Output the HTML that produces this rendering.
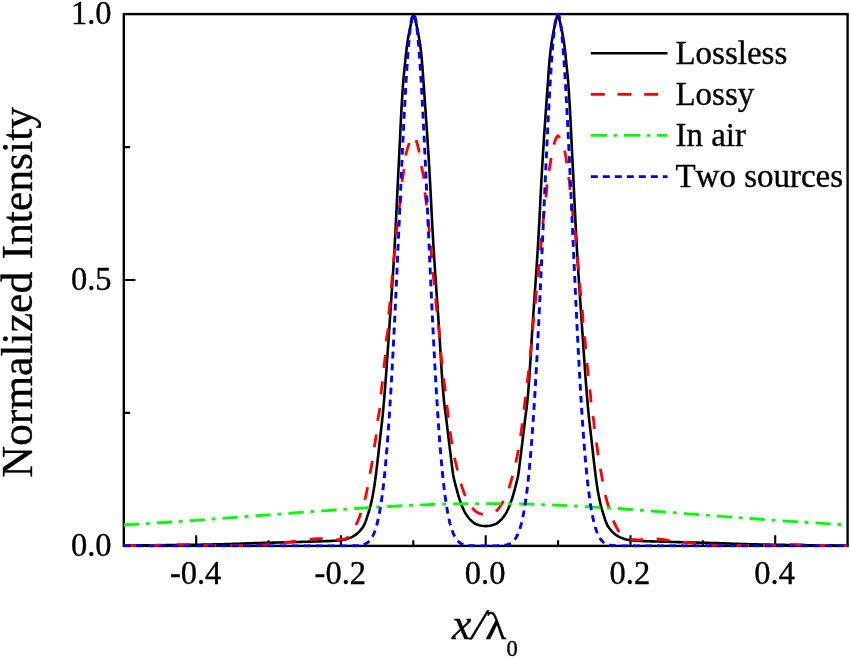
<!DOCTYPE html>
<html lang="en"><head><meta charset="utf-8"><title>Normalized Intensity</title>
<style>html,body{margin:0;padding:0;background:#fff}svg{display:block}</style></head>
<body>
<svg width="850" height="657" viewBox="0 0 850 657">
<rect width="850" height="657" fill="#fff"/>
<rect x="123.8" y="14.1" width="723.8" height="531.8" fill="none" stroke="#000" stroke-width="2.4"/>
<path d="M196.2,545.9 v-10.7 M268.6,545.9 v-5.7 M340.9,545.9 v-10.7 M413.3,545.9 v-5.7 M485.7,545.9 v-10.7 M558.1,545.9 v-5.7 M630.5,545.9 v-10.7 M702.8,545.9 v-5.7 M775.2,545.9 v-10.7 M123.8,412.9 h6.3 M123.8,280.0 h11.6 M123.8,147.1 h6.3" stroke="#000" stroke-width="2.1" fill="none"/>
<clipPath id="c"><rect x="122.6" y="12.95" width="726.2" height="534.5"/></clipPath>
<g clip-path="url(#c)" fill="none" stroke-linejoin="round">
<path d="M124.00,545.50 L125.91,545.49 L127.81,545.49 L129.72,545.48 L131.63,545.47 L133.54,545.46 L135.44,545.45 L137.35,545.43 L139.26,545.42 L141.16,545.41 L143.07,545.39 L144.98,545.38 L146.89,545.36 L148.79,545.35 L150.70,545.33 L152.61,545.31 L154.51,545.29 L156.42,545.27 L158.33,545.25 L160.24,545.23 L162.14,545.21 L164.05,545.19 L165.96,545.17 L167.86,545.15 L169.77,545.12 L171.68,545.10 L173.59,545.08 L175.49,545.06 L177.40,545.03 L179.31,545.01 L181.21,544.98 L183.12,544.96 L185.03,544.93 L186.93,544.91 L188.84,544.88 L190.75,544.85 L192.65,544.82 L194.56,544.79 L196.47,544.75 L198.38,544.72 L200.28,544.68 L202.19,544.65 L204.10,544.61 L206.00,544.57 L207.91,544.53 L209.82,544.49 L211.72,544.45 L213.63,544.41 L215.54,544.37 L217.44,544.32 L219.35,544.28 L221.26,544.23 L223.16,544.18 L225.07,544.13 L226.98,544.08 L228.88,544.03 L230.79,543.98 L232.70,543.92 L234.60,543.85 L236.51,543.77 L238.41,543.70 L240.32,543.62 L242.22,543.53 L244.13,543.45 L246.03,543.38 L247.94,543.30 L249.85,543.24 L251.75,543.18 L253.66,543.12 L255.57,543.07 L257.47,543.02 L259.38,542.97 L261.29,542.93 L263.19,542.88 L265.10,542.84 L267.01,542.79 L268.91,542.75 L270.82,542.70 L272.73,542.66 L274.63,542.62 L276.54,542.57 L278.45,542.52 L280.35,542.47 L282.26,542.42 L284.16,542.37 L286.07,542.31 L287.98,542.26 L289.88,542.21 L291.79,542.15 L293.70,542.10 L295.60,542.04 L297.51,541.99 L299.42,541.93 L301.32,541.88 L303.23,541.82 L305.14,541.77 L307.04,541.71 L308.95,541.66 L310.85,541.61 L312.76,541.56 L314.67,541.51 L316.57,541.45 L318.48,541.40 L320.39,541.34 L322.29,541.28 L324.20,541.21 L326.11,541.15 L328.01,541.08 L329.92,541.00 L331.83,540.92 L333.73,540.82 L335.63,540.70 L337.53,540.55 L339.43,540.35 L341.32,540.11 L343.21,539.81 L345.08,539.42 L346.92,538.94 L348.72,538.32 L350.50,537.61 L352.24,536.82 L353.90,535.91 L355.51,534.86 L357.02,533.70 L358.44,532.42 L359.77,531.04 L361.00,529.60 L362.19,528.08 L363.27,526.49 L364.18,524.85 L364.95,523.14 L365.66,521.37 L366.30,519.57 L366.91,517.74 L367.49,515.90 L368.05,514.07 L368.62,512.25 L369.17,510.42 L369.70,508.59 L370.21,506.75 L370.69,504.90 L371.14,503.05 L371.57,501.19 L371.97,499.33 L372.36,497.46 L372.73,495.59 L373.08,493.71 L373.42,491.83 L373.74,489.95 L374.04,488.07 L374.33,486.19 L374.61,484.30 L374.88,482.41 L375.13,480.52 L375.39,478.63 L375.63,476.74 L375.88,474.85 L376.12,472.96 L376.35,471.06 L376.59,469.17 L376.81,467.28 L377.04,465.38 L377.26,463.49 L377.48,461.59 L377.70,459.70 L377.91,457.80 L378.13,455.91 L378.34,454.01 L378.55,452.12 L378.76,450.22 L378.97,448.33 L379.18,446.43 L379.39,444.53 L379.60,442.64 L379.82,440.74 L380.03,438.85 L380.25,436.95 L380.47,435.06 L380.69,433.16 L380.91,431.27 L381.13,429.37 L381.35,427.48 L381.56,425.58 L381.78,423.69 L381.99,421.79 L382.20,419.90 L382.40,418.00 L382.60,416.10 L382.80,414.21 L382.98,412.31 L383.16,410.41 L383.34,408.51 L383.51,406.62 L383.67,404.72 L383.84,402.82 L384.00,400.92 L384.16,399.02 L384.32,397.12 L384.48,395.22 L384.64,393.32 L384.79,391.42 L384.94,389.52 L385.09,387.61 L385.24,385.71 L385.39,383.81 L385.53,381.91 L385.67,380.01 L385.82,378.11 L385.96,376.20 L386.10,374.30 L386.23,372.40 L386.37,370.50 L386.51,368.59 L386.64,366.69 L386.78,364.79 L386.91,362.89 L387.04,360.98 L387.18,359.08 L387.31,357.18 L387.44,355.27 L387.57,353.37 L387.70,351.47 L387.83,349.56 L387.96,347.66 L388.09,345.76 L388.21,343.85 L388.34,341.95 L388.47,340.05 L388.60,338.15 L388.73,336.24 L388.86,334.34 L388.99,332.44 L389.12,330.53 L389.25,328.63 L389.38,326.73 L389.51,324.83 L389.64,322.92 L389.78,321.02 L389.91,319.12 L390.04,317.21 L390.17,315.31 L390.30,313.41 L390.43,311.51 L390.56,309.60 L390.69,307.70 L390.82,305.80 L390.95,303.90 L391.08,301.99 L391.21,300.09 L391.34,298.19 L391.47,296.28 L391.60,294.38 L391.73,292.48 L391.86,290.58 L391.98,288.67 L392.11,286.77 L392.24,284.87 L392.36,282.96 L392.49,281.06 L392.61,279.16 L392.73,277.25 L392.86,275.35 L392.98,273.45 L393.10,271.54 L393.22,269.64 L393.34,267.74 L393.46,265.83 L393.58,263.93 L393.69,262.03 L393.81,260.12 L393.93,258.22 L394.04,256.32 L394.15,254.41 L394.27,252.51 L394.38,250.60 L394.49,248.70 L394.60,246.80 L394.71,244.89 L394.81,242.99 L394.92,241.08 L395.02,239.18 L395.13,237.28 L395.23,235.37 L395.33,233.47 L395.43,231.56 L395.53,229.66 L395.63,227.75 L395.72,225.85 L395.82,223.94 L395.92,222.04 L396.01,220.13 L396.11,218.23 L396.20,216.32 L396.29,214.42 L396.38,212.52 L396.48,210.61 L396.57,208.71 L396.66,206.80 L396.75,204.90 L396.84,202.99 L396.93,201.08 L397.03,199.18 L397.12,197.27 L397.21,195.37 L397.30,193.46 L397.39,191.56 L397.48,189.65 L397.57,187.75 L397.66,185.84 L397.76,183.94 L397.85,182.03 L397.94,180.13 L398.03,178.22 L398.13,176.32 L398.22,174.41 L398.32,172.51 L398.41,170.61 L398.51,168.70 L398.61,166.80 L398.71,164.89 L398.80,162.99 L398.90,161.08 L399.00,159.18 L399.09,157.27 L399.18,155.37 L399.28,153.46 L399.37,151.56 L399.46,149.65 L399.55,147.74 L399.64,145.84 L399.73,143.93 L399.83,142.03 L399.92,140.12 L400.01,138.22 L400.10,136.31 L400.19,134.41 L400.28,132.50 L400.37,130.60 L400.46,128.69 L400.56,126.78 L400.65,124.88 L400.75,122.97 L400.84,121.07 L400.94,119.16 L401.04,117.26 L401.14,115.35 L401.24,113.45 L401.34,111.55 L401.45,109.64 L401.55,107.74 L401.66,105.83 L401.77,103.93 L401.88,102.03 L402.00,100.12 L402.12,98.22 L402.24,96.32 L402.36,94.41 L402.48,92.51 L402.61,90.61 L402.74,88.71 L402.87,86.81 L403.01,84.91 L403.15,83.00 L403.30,81.10 L403.46,79.20 L403.63,77.30 L403.81,75.41 L403.99,73.51 L404.18,71.61 L404.37,69.71 L404.57,67.81 L404.76,65.92 L404.96,64.02 L405.16,62.12 L405.36,60.22 L405.55,58.33 L405.75,56.43 L405.95,54.53 L406.15,52.64 L406.37,50.74 L406.59,48.85 L406.83,46.96 L407.09,45.07 L407.36,43.18 L407.65,41.29 L407.94,39.41 L408.25,37.52 L408.57,35.65 L408.91,33.77 L409.26,31.89 L409.63,30.02 L410.02,28.15 L410.42,26.29 L410.83,24.43 L411.27,22.57 L411.73,20.72 L412.19,18.87 L412.64,17.02 L413.08,15.16 L413.50,13.30 L413.70,13.30 L414.09,15.03 L414.49,16.75 L414.91,18.47 L415.34,20.19 L415.77,21.91 L416.19,23.63 L416.58,25.35 L416.95,27.08 L417.32,28.81 L417.67,30.55 L418.01,32.29 L418.33,34.02 L418.65,35.77 L418.95,37.51 L419.25,39.25 L419.54,41.00 L419.81,42.75 L420.08,44.50 L420.32,46.25 L420.55,48.01 L420.77,49.76 L420.97,51.52 L421.16,53.28 L421.35,55.04 L421.52,56.81 L421.69,58.57 L421.85,60.33 L422.00,62.09 L422.15,63.86 L422.29,65.62 L422.43,67.38 L422.57,69.15 L422.70,70.91 L422.83,72.68 L422.95,74.45 L423.08,76.21 L423.20,77.98 L423.33,79.74 L423.45,81.51 L423.58,83.27 L423.70,85.04 L423.83,86.81 L423.96,88.57 L424.08,90.34 L424.21,92.10 L424.34,93.87 L424.46,95.63 L424.59,97.40 L424.71,99.16 L424.84,100.93 L424.97,102.69 L425.09,104.46 L425.22,106.23 L425.34,107.99 L425.46,109.76 L425.59,111.52 L425.71,113.29 L425.83,115.05 L425.96,116.82 L426.08,118.58 L426.20,120.35 L426.32,122.12 L426.44,123.88 L426.57,125.65 L426.69,127.41 L426.80,129.18 L426.92,130.95 L427.04,132.71 L427.16,134.48 L427.28,136.24 L427.40,138.01 L427.51,139.78 L427.63,141.54 L427.74,143.31 L427.86,145.07 L427.97,146.84 L428.08,148.61 L428.20,150.37 L428.31,152.14 L428.42,153.91 L428.53,155.67 L428.64,157.44 L428.75,159.21 L428.86,160.97 L428.96,162.74 L429.07,164.51 L429.18,166.27 L429.28,168.04 L429.38,169.81 L429.48,171.57 L429.58,173.34 L429.68,175.11 L429.78,176.87 L429.88,178.64 L429.97,180.41 L430.07,182.18 L430.16,183.94 L430.26,185.71 L430.35,187.48 L430.44,189.25 L430.54,191.01 L430.63,192.78 L430.72,194.55 L430.81,196.32 L430.90,198.08 L430.99,199.85 L431.08,201.62 L431.17,203.39 L431.26,205.16 L431.35,206.92 L431.44,208.69 L431.53,210.46 L431.62,212.23 L431.71,213.99 L431.80,215.76 L431.89,217.53 L431.98,219.30 L432.07,221.06 L432.16,222.83 L432.26,224.60 L432.35,226.37 L432.45,228.13 L432.54,229.90 L432.64,231.67 L432.74,233.44 L432.83,235.20 L432.93,236.97 L433.03,238.74 L433.14,240.50 L433.24,242.27 L433.34,244.04 L433.45,245.80 L433.56,247.57 L433.66,249.34 L433.77,251.10 L433.88,252.87 L433.99,254.64 L434.11,256.40 L434.22,258.17 L434.33,259.94 L434.45,261.70 L434.56,263.47 L434.68,265.23 L434.80,267.00 L434.91,268.77 L435.03,270.53 L435.15,272.30 L435.27,274.06 L435.39,275.83 L435.51,277.60 L435.63,279.36 L435.75,281.13 L435.88,282.89 L436.00,284.66 L436.12,286.42 L436.24,288.19 L436.37,289.96 L436.49,291.72 L436.61,293.49 L436.74,295.25 L436.86,297.02 L436.98,298.78 L437.11,300.55 L437.23,302.32 L437.35,304.08 L437.48,305.85 L437.60,307.61 L437.72,309.38 L437.85,311.14 L437.97,312.91 L438.09,314.68 L438.21,316.44 L438.34,318.21 L438.46,319.97 L438.58,321.74 L438.70,323.50 L438.82,325.27 L438.94,327.04 L439.05,328.80 L439.17,330.57 L439.28,332.34 L439.39,334.10 L439.50,335.87 L439.61,337.64 L439.72,339.40 L439.83,341.17 L439.94,342.94 L440.04,344.71 L440.15,346.47 L440.25,348.24 L440.36,350.01 L440.46,351.78 L440.57,353.55 L440.68,355.31 L440.78,357.08 L440.89,358.85 L441.00,360.62 L441.10,362.38 L441.21,364.15 L441.33,365.92 L441.44,367.68 L441.55,369.45 L441.67,371.22 L441.78,372.98 L441.90,374.75 L442.02,376.52 L442.15,378.28 L442.27,380.05 L442.40,381.81 L442.53,383.58 L442.66,385.34 L442.80,387.10 L442.94,388.87 L443.08,390.63 L443.23,392.39 L443.38,394.15 L443.53,395.92 L443.69,397.68 L443.85,399.44 L444.02,401.20 L444.20,402.96 L444.40,404.71 L444.62,406.47 L444.84,408.23 L445.07,409.98 L445.30,411.74 L445.54,413.49 L445.78,415.25 L446.01,417.00 L446.23,418.76 L446.45,420.52 L446.66,422.27 L446.87,424.03 L447.08,425.79 L447.29,427.55 L447.50,429.30 L447.71,431.06 L447.92,432.82 L448.13,434.58 L448.34,436.33 L448.55,438.09 L448.76,439.85 L448.97,441.61 L449.18,443.36 L449.40,445.12 L449.61,446.88 L449.82,448.63 L450.04,450.39 L450.26,452.15 L450.47,453.90 L450.69,455.66 L450.91,457.42 L451.13,459.17 L451.35,460.93 L451.56,462.69 L451.77,464.45 L451.98,466.21 L452.19,467.97 L452.42,469.73 L452.65,471.48 L452.91,473.23 L453.19,474.97 L453.52,476.70 L453.88,478.43 L454.28,480.16 L454.71,481.88 L455.15,483.60 L455.60,485.31 L456.05,487.02 L456.50,488.73 L456.96,490.45 L457.42,492.16 L457.90,493.87 L458.39,495.57 L458.90,497.27 L459.44,498.96 L459.99,500.63 L460.58,502.29 L461.19,503.96 L461.83,505.62 L462.51,507.28 L463.22,508.91 L463.98,510.51 L464.79,512.07 L465.66,513.58 L466.61,515.08 L467.64,516.57 L468.75,517.99 L469.92,519.34 L471.15,520.56 L472.46,521.72 L473.90,522.85 L475.43,523.85 L477.01,524.58 L478.63,525.04 L480.30,525.45 L482.04,525.79 L483.84,526.02 L485.70,526.10 L487.56,526.02 L489.36,525.79 L491.10,525.45 L492.77,525.04 L494.39,524.58 L495.97,523.85 L497.50,522.85 L498.94,521.72 L500.25,520.56 L501.48,519.34 L502.65,517.99 L503.76,516.57 L504.79,515.08 L505.74,513.58 L506.61,512.07 L507.42,510.51 L508.18,508.91 L508.89,507.28 L509.57,505.62 L510.21,503.96 L510.82,502.29 L511.41,500.63 L511.96,498.96 L512.50,497.27 L513.01,495.57 L513.50,493.87 L513.98,492.16 L514.44,490.45 L514.90,488.73 L515.35,487.02 L515.80,485.31 L516.25,483.60 L516.69,481.88 L517.12,480.16 L517.52,478.43 L517.88,476.70 L518.21,474.97 L518.49,473.23 L518.75,471.48 L518.98,469.73 L519.21,467.97 L519.42,466.21 L519.63,464.45 L519.84,462.69 L520.05,460.93 L520.27,459.17 L520.49,457.42 L520.71,455.66 L520.93,453.90 L521.14,452.15 L521.36,450.39 L521.58,448.63 L521.79,446.88 L522.00,445.12 L522.22,443.36 L522.43,441.61 L522.64,439.85 L522.85,438.09 L523.06,436.33 L523.27,434.58 L523.48,432.82 L523.69,431.06 L523.90,429.30 L524.11,427.55 L524.32,425.79 L524.53,424.03 L524.74,422.27 L524.95,420.52 L525.17,418.76 L525.39,417.00 L525.62,415.25 L525.86,413.49 L526.10,411.74 L526.33,409.98 L526.56,408.23 L526.78,406.47 L527.00,404.71 L527.20,402.96 L527.38,401.20 L527.55,399.44 L527.71,397.68 L527.87,395.92 L528.02,394.15 L528.17,392.39 L528.32,390.63 L528.46,388.87 L528.60,387.10 L528.74,385.34 L528.87,383.58 L529.00,381.81 L529.13,380.05 L529.25,378.28 L529.38,376.52 L529.50,374.75 L529.62,372.98 L529.73,371.22 L529.85,369.45 L529.96,367.68 L530.07,365.92 L530.19,364.15 L530.30,362.38 L530.40,360.62 L530.51,358.85 L530.62,357.08 L530.72,355.31 L530.83,353.55 L530.94,351.78 L531.04,350.01 L531.15,348.24 L531.25,346.47 L531.36,344.71 L531.46,342.94 L531.57,341.17 L531.68,339.40 L531.79,337.64 L531.90,335.87 L532.01,334.10 L532.12,332.34 L532.23,330.57 L532.35,328.80 L532.46,327.04 L532.58,325.27 L532.70,323.50 L532.82,321.74 L532.94,319.97 L533.06,318.21 L533.19,316.44 L533.31,314.68 L533.43,312.91 L533.55,311.14 L533.68,309.38 L533.80,307.61 L533.92,305.85 L534.05,304.08 L534.17,302.32 L534.29,300.55 L534.42,298.78 L534.54,297.02 L534.66,295.25 L534.79,293.49 L534.91,291.72 L535.03,289.96 L535.16,288.19 L535.28,286.42 L535.40,284.66 L535.52,282.89 L535.65,281.13 L535.77,279.36 L535.89,277.60 L536.01,275.83 L536.13,274.06 L536.25,272.30 L536.37,270.53 L536.49,268.77 L536.60,267.00 L536.72,265.23 L536.84,263.47 L536.95,261.70 L537.07,259.94 L537.18,258.17 L537.29,256.40 L537.41,254.64 L537.52,252.87 L537.63,251.10 L537.74,249.34 L537.84,247.57 L537.95,245.80 L538.06,244.04 L538.16,242.27 L538.26,240.50 L538.37,238.74 L538.47,236.97 L538.57,235.20 L538.66,233.44 L538.76,231.67 L538.86,229.90 L538.95,228.13 L539.05,226.37 L539.14,224.60 L539.24,222.83 L539.33,221.06 L539.42,219.30 L539.51,217.53 L539.60,215.76 L539.69,213.99 L539.78,212.23 L539.87,210.46 L539.96,208.69 L540.05,206.92 L540.14,205.16 L540.23,203.39 L540.32,201.62 L540.41,199.85 L540.50,198.08 L540.59,196.32 L540.68,194.55 L540.77,192.78 L540.86,191.01 L540.96,189.25 L541.05,187.48 L541.14,185.71 L541.24,183.94 L541.33,182.18 L541.43,180.41 L541.52,178.64 L541.62,176.87 L541.72,175.11 L541.82,173.34 L541.92,171.57 L542.02,169.81 L542.12,168.04 L542.22,166.27 L542.33,164.51 L542.44,162.74 L542.54,160.97 L542.65,159.21 L542.76,157.44 L542.87,155.67 L542.98,153.91 L543.09,152.14 L543.20,150.37 L543.32,148.61 L543.43,146.84 L543.54,145.07 L543.66,143.31 L543.77,141.54 L543.89,139.78 L544.00,138.01 L544.12,136.24 L544.24,134.48 L544.36,132.71 L544.48,130.95 L544.60,129.18 L544.71,127.41 L544.83,125.65 L544.96,123.88 L545.08,122.12 L545.20,120.35 L545.32,118.58 L545.44,116.82 L545.57,115.05 L545.69,113.29 L545.81,111.52 L545.94,109.76 L546.06,107.99 L546.18,106.23 L546.31,104.46 L546.43,102.69 L546.56,100.93 L546.69,99.16 L546.81,97.40 L546.94,95.63 L547.06,93.87 L547.19,92.10 L547.32,90.34 L547.44,88.57 L547.57,86.81 L547.70,85.04 L547.82,83.27 L547.95,81.51 L548.07,79.74 L548.20,77.98 L548.32,76.21 L548.45,74.45 L548.57,72.68 L548.70,70.91 L548.83,69.15 L548.97,67.38 L549.11,65.62 L549.25,63.86 L549.40,62.09 L549.55,60.33 L549.71,58.57 L549.88,56.81 L550.05,55.04 L550.24,53.28 L550.43,51.52 L550.63,49.76 L550.85,48.01 L551.08,46.25 L551.32,44.50 L551.59,42.75 L551.86,41.00 L552.15,39.25 L552.45,37.51 L552.75,35.77 L553.07,34.02 L553.39,32.29 L553.73,30.55 L554.08,28.81 L554.45,27.08 L554.82,25.35 L555.21,23.63 L555.63,21.91 L556.06,20.19 L556.49,18.47 L556.91,16.75 L557.31,15.03 L557.70,13.30 L557.90,13.30 L558.32,15.16 L558.76,17.02 L559.21,18.87 L559.67,20.72 L560.13,22.57 L560.57,24.43 L560.98,26.29 L561.38,28.15 L561.77,30.02 L562.14,31.89 L562.49,33.77 L562.83,35.65 L563.15,37.52 L563.46,39.41 L563.75,41.29 L564.04,43.18 L564.31,45.07 L564.57,46.96 L564.81,48.85 L565.03,50.74 L565.25,52.64 L565.45,54.53 L565.65,56.43 L565.85,58.33 L566.04,60.22 L566.24,62.12 L566.44,64.02 L566.64,65.92 L566.83,67.81 L567.03,69.71 L567.22,71.61 L567.41,73.51 L567.59,75.41 L567.77,77.30 L567.94,79.20 L568.10,81.10 L568.25,83.00 L568.39,84.91 L568.53,86.81 L568.66,88.71 L568.79,90.61 L568.92,92.51 L569.04,94.41 L569.16,96.32 L569.28,98.22 L569.40,100.12 L569.52,102.03 L569.63,103.93 L569.74,105.83 L569.85,107.74 L569.95,109.64 L570.06,111.55 L570.16,113.45 L570.26,115.35 L570.36,117.26 L570.46,119.16 L570.56,121.07 L570.65,122.97 L570.75,124.88 L570.84,126.78 L570.94,128.69 L571.03,130.60 L571.12,132.50 L571.21,134.41 L571.30,136.31 L571.39,138.22 L571.48,140.12 L571.57,142.03 L571.67,143.93 L571.76,145.84 L571.85,147.74 L571.94,149.65 L572.03,151.56 L572.12,153.46 L572.22,155.37 L572.31,157.27 L572.40,159.18 L572.50,161.08 L572.60,162.99 L572.69,164.89 L572.79,166.80 L572.89,168.70 L572.99,170.61 L573.08,172.51 L573.18,174.41 L573.27,176.32 L573.37,178.22 L573.46,180.13 L573.55,182.03 L573.64,183.94 L573.74,185.84 L573.83,187.75 L573.92,189.65 L574.01,191.56 L574.10,193.46 L574.19,195.37 L574.28,197.27 L574.37,199.18 L574.47,201.08 L574.56,202.99 L574.65,204.90 L574.74,206.80 L574.83,208.71 L574.92,210.61 L575.02,212.52 L575.11,214.42 L575.20,216.32 L575.29,218.23 L575.39,220.13 L575.48,222.04 L575.58,223.94 L575.68,225.85 L575.77,227.75 L575.87,229.66 L575.97,231.56 L576.07,233.47 L576.17,235.37 L576.27,237.28 L576.38,239.18 L576.48,241.08 L576.59,242.99 L576.69,244.89 L576.80,246.80 L576.91,248.70 L577.02,250.60 L577.13,252.51 L577.25,254.41 L577.36,256.32 L577.47,258.22 L577.59,260.12 L577.71,262.03 L577.82,263.93 L577.94,265.83 L578.06,267.74 L578.18,269.64 L578.30,271.54 L578.42,273.45 L578.54,275.35 L578.67,277.25 L578.79,279.16 L578.91,281.06 L579.04,282.96 L579.16,284.87 L579.29,286.77 L579.42,288.67 L579.54,290.58 L579.67,292.48 L579.80,294.38 L579.93,296.28 L580.06,298.19 L580.19,300.09 L580.32,301.99 L580.45,303.90 L580.58,305.80 L580.71,307.70 L580.84,309.60 L580.97,311.51 L581.10,313.41 L581.23,315.31 L581.36,317.21 L581.49,319.12 L581.62,321.02 L581.76,322.92 L581.89,324.83 L582.02,326.73 L582.15,328.63 L582.28,330.53 L582.41,332.44 L582.54,334.34 L582.67,336.24 L582.80,338.15 L582.93,340.05 L583.06,341.95 L583.19,343.85 L583.31,345.76 L583.44,347.66 L583.57,349.56 L583.70,351.47 L583.83,353.37 L583.96,355.27 L584.09,357.18 L584.22,359.08 L584.36,360.98 L584.49,362.89 L584.62,364.79 L584.76,366.69 L584.89,368.59 L585.03,370.50 L585.17,372.40 L585.30,374.30 L585.44,376.20 L585.58,378.11 L585.73,380.01 L585.87,381.91 L586.01,383.81 L586.16,385.71 L586.31,387.61 L586.46,389.52 L586.61,391.42 L586.76,393.32 L586.92,395.22 L587.08,397.12 L587.24,399.02 L587.40,400.92 L587.56,402.82 L587.73,404.72 L587.89,406.62 L588.06,408.51 L588.24,410.41 L588.42,412.31 L588.60,414.21 L588.80,416.10 L589.00,418.00 L589.20,419.90 L589.41,421.79 L589.62,423.69 L589.84,425.58 L590.05,427.48 L590.27,429.37 L590.49,431.27 L590.71,433.16 L590.93,435.06 L591.15,436.95 L591.37,438.85 L591.58,440.74 L591.80,442.64 L592.01,444.53 L592.22,446.43 L592.43,448.33 L592.64,450.22 L592.85,452.12 L593.06,454.01 L593.27,455.91 L593.49,457.80 L593.70,459.70 L593.92,461.59 L594.14,463.49 L594.36,465.38 L594.59,467.28 L594.81,469.17 L595.05,471.06 L595.28,472.96 L595.52,474.85 L595.77,476.74 L596.01,478.63 L596.27,480.52 L596.52,482.41 L596.79,484.30 L597.07,486.19 L597.36,488.07 L597.66,489.95 L597.98,491.83 L598.32,493.71 L598.67,495.59 L599.04,497.46 L599.43,499.33 L599.83,501.19 L600.26,503.05 L600.71,504.90 L601.19,506.75 L601.70,508.59 L602.23,510.42 L602.78,512.25 L603.35,514.07 L603.91,515.90 L604.49,517.74 L605.10,519.57 L605.74,521.37 L606.45,523.14 L607.22,524.85 L608.13,526.49 L609.21,528.08 L610.40,529.60 L611.63,531.04 L612.96,532.42 L614.38,533.70 L615.89,534.86 L617.50,535.91 L619.16,536.82 L620.90,537.61 L622.68,538.32 L624.48,538.94 L626.32,539.42 L628.19,539.81 L630.08,540.11 L631.97,540.35 L633.87,540.55 L635.77,540.70 L637.67,540.82 L639.57,540.92 L641.48,541.00 L643.39,541.08 L645.29,541.15 L647.20,541.21 L649.11,541.28 L651.01,541.34 L652.92,541.40 L654.83,541.45 L656.73,541.51 L658.64,541.56 L660.55,541.61 L662.45,541.66 L664.36,541.71 L666.26,541.77 L668.17,541.82 L670.08,541.88 L671.98,541.93 L673.89,541.99 L675.80,542.04 L677.70,542.10 L679.61,542.15 L681.52,542.21 L683.42,542.26 L685.33,542.31 L687.24,542.37 L689.14,542.42 L691.05,542.47 L692.95,542.52 L694.86,542.57 L696.77,542.62 L698.67,542.66 L700.58,542.70 L702.49,542.75 L704.39,542.79 L706.30,542.84 L708.21,542.88 L710.11,542.93 L712.02,542.97 L713.93,543.02 L715.83,543.07 L717.74,543.12 L719.65,543.18 L721.55,543.24 L723.46,543.30 L725.37,543.38 L727.27,543.45 L729.18,543.53 L731.08,543.62 L732.99,543.70 L734.89,543.77 L736.80,543.85 L738.70,543.92 L740.61,543.98 L742.52,544.03 L744.42,544.08 L746.33,544.13 L748.24,544.18 L750.14,544.23 L752.05,544.28 L753.96,544.32 L755.86,544.37 L757.77,544.41 L759.68,544.45 L761.58,544.49 L763.49,544.53 L765.40,544.57 L767.30,544.61 L769.21,544.65 L771.12,544.68 L773.02,544.72 L774.93,544.75 L776.84,544.79 L778.75,544.82 L780.65,544.85 L782.56,544.88 L784.47,544.91 L786.37,544.93 L788.28,544.96 L790.19,544.98 L792.09,545.01 L794.00,545.03 L795.91,545.06 L797.81,545.08 L799.72,545.10 L801.63,545.12 L803.54,545.15 L805.44,545.17 L807.35,545.19 L809.26,545.21 L811.16,545.23 L813.07,545.25 L814.98,545.27 L816.89,545.29 L818.79,545.31 L820.70,545.33 L822.61,545.35 L824.51,545.36 L826.42,545.38 L828.33,545.39 L830.24,545.41 L832.14,545.42 L834.05,545.43 L835.96,545.45 L837.86,545.46 L839.77,545.47 L841.68,545.48 L843.59,545.49 L845.49,545.49 L847.40,545.50" stroke="#000" stroke-width="2.6" stroke-linejoin="miter" stroke-miterlimit="10"/>
<path d="M124.00,545.60 L125.41,545.60 L126.83,545.59 L128.24,545.59 L129.66,545.58 L131.07,545.57 L132.48,545.56 L133.90,545.55 L135.31,545.54 L136.72,545.53 L138.14,545.51 L139.55,545.50 L140.97,545.48 L142.38,545.46 L143.79,545.45 L145.21,545.43 L146.62,545.41 L148.03,545.39 L149.45,545.37 L150.86,545.35 L152.27,545.32 L153.69,545.30 L155.10,545.28 L156.51,545.26 L157.93,545.23 L159.34,545.21 L160.75,545.19 L162.17,545.15 L163.58,545.12 L164.99,545.07 L166.41,545.02 L167.82,544.97 L169.23,544.92 L170.65,544.87 L172.06,544.82 L173.47,544.77 L174.89,544.72 L176.30,544.68 L177.71,544.65 L179.13,544.62 L180.54,544.61 L181.95,544.60 L183.37,544.61 L184.78,544.63 L186.19,544.66 L187.60,544.70 L189.02,544.75 L190.43,544.80 L191.84,544.86 L193.26,544.92 L194.67,544.99 L196.08,545.05 L197.50,545.11 L198.91,545.16 L200.32,545.21 L201.74,545.25 L203.15,545.28 L204.56,545.30 L205.98,545.31 L207.39,545.31 L208.80,545.32 L210.22,545.33 L211.63,545.33 L213.04,545.34 L214.46,545.35 L215.87,545.35 L217.28,545.36 L218.70,545.36 L220.11,545.37 L221.53,545.37 L222.94,545.38 L224.35,545.38 L225.77,545.38 L227.18,545.39 L228.59,545.39 L230.01,545.39 L231.42,545.39 L232.84,545.40 L234.25,545.40 L235.66,545.40 L237.08,545.40 L238.49,545.40 L239.90,545.40 L241.32,545.40 L242.73,545.39 L244.15,545.38 L245.56,545.36 L246.98,545.34 L248.39,545.31 L249.80,545.29 L251.22,545.25 L252.63,545.22 L254.05,545.18 L255.46,545.14 L256.87,545.10 L258.28,545.05 L259.69,545.01 L261.10,544.96 L262.51,544.89 L263.92,544.80 L265.33,544.70 L266.74,544.59 L268.15,544.47 L269.55,544.33 L270.96,544.18 L272.37,544.03 L273.77,543.87 L275.18,543.70 L276.59,543.53 L277.99,543.36 L279.40,543.19 L280.80,543.01 L282.21,542.84 L283.61,542.67 L285.02,542.51 L286.42,542.35 L287.83,542.19 L289.23,542.03 L290.63,541.86 L292.04,541.69 L293.44,541.52 L294.84,541.34 L296.25,541.17 L297.65,540.99 L299.05,540.81 L300.45,540.63 L301.86,540.45 L303.26,540.27 L304.66,540.08 L306.06,539.90 L307.46,539.72 L308.86,539.51 L310.26,539.32 L311.67,539.14 L313.07,538.99 L314.48,538.86 L315.89,538.74 L317.30,538.64 L318.71,538.60 L320.12,538.63 L321.53,538.73 L322.94,538.87 L324.35,539.03 L325.76,539.18 L327.16,539.32 L328.57,539.50 L329.98,539.66 L331.39,539.78 L332.80,539.80 L334.21,539.78 L335.63,539.74 L337.04,539.69 L338.45,539.63 L339.87,539.55 L341.33,539.41 L342.79,539.22 L344.19,538.97 L345.48,538.66 L346.65,538.18 L347.75,537.35 L348.78,536.29 L349.76,535.10 L350.67,533.93 L351.52,532.82 L352.32,531.68 L353.09,530.49 L353.82,529.26 L354.51,528.01 L355.18,526.74 L355.81,525.48 L356.43,524.21 L357.01,522.93 L357.58,521.64 L358.13,520.33 L358.66,519.02 L359.17,517.70 L359.67,516.37 L360.16,515.03 L360.62,513.70 L361.08,512.36 L361.53,511.03 L361.97,509.68 L362.39,508.33 L362.81,506.98 L363.21,505.62 L363.61,504.26 L363.99,502.90 L364.36,501.54 L364.72,500.17 L365.07,498.80 L365.41,497.43 L365.74,496.06 L366.06,494.68 L366.36,493.30 L366.66,491.91 L366.95,490.53 L367.23,489.14 L367.51,487.76 L367.78,486.37 L368.05,484.98 L368.31,483.59 L368.56,482.20 L368.81,480.81 L369.06,479.42 L369.31,478.02 L369.55,476.63 L369.79,475.24 L370.04,473.85 L370.29,472.46 L370.54,471.06 L370.80,469.67 L371.06,468.28 L371.32,466.89 L371.57,465.50 L371.82,464.11 L372.07,462.72 L372.30,461.33 L372.52,459.93 L372.73,458.53 L372.93,457.13 L373.13,455.73 L373.32,454.33 L373.51,452.93 L373.70,451.53 L373.89,450.13 L374.08,448.73 L374.28,447.33 L374.49,445.93 L374.70,444.53 L374.93,443.14 L375.16,441.74 L375.40,440.35 L375.63,438.95 L375.85,437.55 L376.06,436.16 L376.25,434.76 L376.43,433.36 L376.59,431.95 L376.74,430.55 L376.89,429.14 L377.03,427.73 L377.16,426.32 L377.30,424.92 L377.45,423.51 L377.60,422.10 L377.77,420.70 L377.95,419.30 L378.17,417.90 L378.41,416.51 L378.67,415.12 L378.93,413.73 L379.18,412.33 L379.43,410.94 L379.64,409.55 L379.82,408.15 L379.97,406.74 L380.10,405.34 L380.22,403.93 L380.34,402.52 L380.44,401.11 L380.55,399.70 L380.65,398.29 L380.76,396.88 L380.87,395.47 L381.00,394.06 L381.14,392.65 L381.29,391.25 L381.45,389.84 L381.62,388.44 L381.80,387.03 L381.98,385.63 L382.15,384.23 L382.32,382.83 L382.49,381.42 L382.64,380.02 L382.79,378.61 L382.93,377.20 L383.07,375.80 L383.21,374.39 L383.35,372.98 L383.49,371.58 L383.63,370.17 L383.78,368.76 L383.93,367.36 L384.09,365.95 L384.26,364.55 L384.44,363.15 L384.62,361.74 L384.81,360.34 L384.99,358.94 L385.15,357.53 L385.30,356.13 L385.42,354.72 L385.53,353.31 L385.62,351.90 L385.69,350.49 L385.77,349.08 L385.84,347.66 L385.91,346.25 L385.98,344.84 L386.07,343.42 L386.16,342.02 L386.27,340.61 L386.42,339.21 L386.62,337.81 L386.86,336.41 L387.12,335.02 L387.39,333.63 L387.64,332.23 L387.86,330.83 L388.03,329.43 L388.15,328.03 L388.24,326.62 L388.31,325.21 L388.38,323.80 L388.44,322.39 L388.49,320.97 L388.54,319.56 L388.60,318.14 L388.67,316.73 L388.74,315.32 L388.83,313.91 L388.94,312.50 L389.07,311.09 L389.21,309.69 L389.36,308.28 L389.51,306.87 L389.67,305.47 L389.82,304.06 L389.96,302.65 L390.09,301.25 L390.22,299.84 L390.35,298.43 L390.48,297.02 L390.60,295.61 L390.73,294.21 L390.85,292.80 L390.97,291.39 L391.10,289.98 L391.22,288.57 L391.34,287.16 L391.45,285.76 L391.57,284.35 L391.68,282.94 L391.80,281.53 L391.91,280.12 L392.03,278.71 L392.15,277.30 L392.27,275.89 L392.40,274.48 L392.52,273.08 L392.65,271.67 L392.78,270.26 L392.91,268.85 L393.04,267.45 L393.18,266.04 L393.32,264.63 L393.46,263.22 L393.60,261.82 L393.74,260.41 L393.89,259.01 L394.06,257.60 L394.23,256.20 L394.39,254.79 L394.55,253.39 L394.71,251.98 L394.84,250.58 L394.96,249.17 L395.06,247.76 L395.15,246.35 L395.23,244.93 L395.30,243.52 L395.38,242.10 L395.45,240.69 L395.53,239.28 L395.62,237.87 L395.72,236.46 L395.84,235.06 L395.98,233.65 L396.18,232.26 L396.41,230.86 L396.67,229.47 L396.94,228.08 L397.19,226.68 L397.42,225.29 L397.60,223.89 L397.77,222.49 L397.93,221.08 L398.07,219.67 L398.21,218.27 L398.34,216.86 L398.47,215.45 L398.60,214.04 L398.74,212.63 L398.88,211.22 L399.02,209.82 L399.19,208.41 L399.36,207.01 L399.56,205.61 L399.81,204.22 L400.10,202.84 L400.38,201.45 L400.59,200.05 L400.75,198.65 L400.88,197.25 L401.00,195.84 L401.10,194.43 L401.19,193.02 L401.28,191.60 L401.37,190.19 L401.45,188.78 L401.54,187.36 L401.64,185.95 L401.76,184.54 L401.88,183.14 L402.03,181.73 L402.21,180.33 L402.43,178.94 L402.67,177.55 L402.93,176.15 L403.19,174.76 L403.44,173.37 L403.67,171.97 L403.87,170.57 L404.05,169.17 L404.22,167.76 L404.37,166.35 L404.52,164.94 L404.67,163.53 L404.82,162.13 L404.98,160.72 L405.15,159.32 L405.34,157.92 L405.56,156.54 L405.81,155.15 L406.10,153.77 L406.42,152.39 L406.78,151.02 L407.16,149.65 L407.56,148.29 L407.98,146.93 L408.41,145.59 L408.85,144.25 L409.31,142.90 L409.82,141.56 L410.37,140.25 L410.98,139.00 L411.69,137.81 L412.55,136.68 L413.50,135.60 L413.70,135.60 L414.45,136.70 L415.13,137.84 L415.68,139.01 L416.16,140.23 L416.59,141.48 L416.98,142.76 L417.34,144.03 L417.68,145.31 L418.00,146.58 L418.30,147.87 L418.59,149.16 L418.86,150.45 L419.12,151.75 L419.37,153.04 L419.61,154.34 L419.83,155.64 L420.05,156.94 L420.25,158.24 L420.45,159.54 L420.65,160.85 L420.85,162.15 L421.05,163.46 L421.25,164.76 L421.47,166.06 L421.69,167.36 L421.94,168.66 L422.22,169.95 L422.51,171.24 L422.81,172.53 L423.10,173.82 L423.37,175.11 L423.61,176.41 L423.81,177.71 L423.97,179.01 L424.10,180.32 L424.21,181.63 L424.31,182.94 L424.40,184.26 L424.48,185.58 L424.56,186.90 L424.64,188.22 L424.72,189.54 L424.81,190.85 L424.92,192.17 L425.03,193.48 L425.16,194.80 L425.33,196.10 L425.51,197.41 L425.71,198.71 L425.91,200.02 L426.10,201.32 L426.28,202.63 L426.44,203.94 L426.59,205.25 L426.74,206.56 L426.89,207.87 L427.03,209.18 L427.17,210.49 L427.31,211.81 L427.45,213.12 L427.58,214.43 L427.72,215.74 L427.85,217.06 L427.99,218.37 L428.12,219.68 L428.26,220.99 L428.40,222.30 L428.54,223.62 L428.68,224.93 L428.82,226.24 L428.96,227.55 L429.10,228.86 L429.23,230.18 L429.35,231.49 L429.47,232.80 L429.58,234.12 L429.69,235.43 L429.79,236.75 L429.89,238.06 L429.99,239.38 L430.09,240.69 L430.19,242.01 L430.29,243.32 L430.40,244.64 L430.52,245.95 L430.65,247.26 L430.79,248.58 L430.94,249.89 L431.10,251.20 L431.27,252.50 L431.43,253.81 L431.58,255.12 L431.73,256.44 L431.85,257.75 L431.96,259.06 L432.07,260.38 L432.16,261.69 L432.26,263.01 L432.35,264.32 L432.43,265.64 L432.52,266.96 L432.62,268.27 L432.71,269.59 L432.82,270.90 L432.93,272.22 L433.05,273.53 L433.19,274.84 L433.34,276.15 L433.50,277.46 L433.67,278.77 L433.83,280.08 L434.00,281.39 L434.15,282.70 L434.30,284.01 L434.44,285.32 L434.57,286.63 L434.70,287.95 L434.83,289.26 L434.95,290.57 L435.08,291.89 L435.20,293.20 L435.32,294.51 L435.44,295.83 L435.56,297.14 L435.69,298.45 L435.81,299.77 L435.93,301.08 L436.05,302.39 L436.17,303.71 L436.29,305.02 L436.42,306.33 L436.54,307.65 L436.66,308.96 L436.79,310.27 L436.92,311.59 L437.05,312.90 L437.19,314.21 L437.33,315.52 L437.47,316.83 L437.61,318.15 L437.75,319.46 L437.89,320.77 L438.04,322.08 L438.18,323.39 L438.31,324.70 L438.45,326.02 L438.58,327.33 L438.72,328.64 L438.85,329.95 L438.98,331.26 L439.11,332.58 L439.24,333.89 L439.36,335.20 L439.48,336.52 L439.60,337.83 L439.71,339.15 L439.82,340.46 L439.92,341.78 L440.03,343.09 L440.13,344.41 L440.23,345.72 L440.34,347.04 L440.44,348.35 L440.55,349.66 L440.67,350.98 L440.79,352.29 L440.92,353.60 L441.05,354.92 L441.18,356.23 L441.32,357.54 L441.46,358.85 L441.60,360.17 L441.74,361.48 L441.88,362.79 L442.02,364.10 L442.16,365.41 L442.30,366.72 L442.44,368.04 L442.58,369.35 L442.72,370.66 L442.86,371.97 L443.01,373.28 L443.16,374.59 L443.31,375.90 L443.47,377.21 L443.63,378.52 L443.80,379.83 L443.97,381.14 L444.16,382.44 L444.34,383.75 L444.53,385.05 L444.71,386.36 L444.89,387.67 L445.06,388.98 L445.22,390.28 L445.37,391.59 L445.52,392.91 L445.66,394.22 L445.80,395.53 L445.94,396.84 L446.08,398.15 L446.22,399.46 L446.36,400.78 L446.50,402.09 L446.65,403.40 L446.80,404.71 L446.96,406.02 L447.12,407.33 L447.28,408.64 L447.45,409.94 L447.62,411.25 L447.79,412.56 L447.96,413.87 L448.12,415.18 L448.28,416.49 L448.44,417.80 L448.60,419.11 L448.76,420.42 L448.91,421.73 L449.07,423.04 L449.22,424.35 L449.38,425.66 L449.54,426.97 L449.71,428.27 L449.88,429.58 L450.05,430.89 L450.23,432.20 L450.42,433.50 L450.60,434.81 L450.79,436.11 L450.99,437.42 L451.19,438.72 L451.39,440.03 L451.60,441.33 L451.80,442.63 L452.02,443.93 L452.23,445.23 L452.45,446.54 L452.67,447.84 L452.90,449.14 L453.13,450.44 L453.36,451.73 L453.60,453.03 L453.85,454.33 L454.10,455.62 L454.36,456.91 L454.63,458.20 L454.92,459.49 L455.21,460.78 L455.51,462.06 L455.81,463.35 L456.12,464.63 L456.44,465.91 L456.75,467.19 L457.07,468.47 L457.39,469.75 L457.70,471.03 L458.02,472.31 L458.34,473.60 L458.66,474.88 L458.98,476.16 L459.31,477.43 L459.65,478.71 L459.99,479.98 L460.35,481.25 L460.71,482.52 L461.08,483.78 L461.47,485.05 L461.86,486.31 L462.25,487.57 L462.66,488.83 L463.09,490.09 L463.53,491.33 L463.98,492.57 L464.46,493.80 L464.96,495.01 L465.49,496.20 L466.06,497.39 L466.66,498.57 L467.29,499.74 L467.94,500.90 L468.61,502.04 L469.29,503.16 L469.98,504.29 L470.68,505.44 L471.41,506.59 L472.16,507.71 L472.96,508.77 L473.81,509.73 L474.73,510.58 L475.76,511.38 L476.88,512.13 L478.07,512.80 L479.29,513.35 L480.51,513.76 L481.75,514.12 L483.03,514.42 L484.35,514.66 L485.70,514.80 L487.05,514.66 L488.37,514.42 L489.65,514.12 L490.89,513.76 L492.11,513.35 L493.33,512.80 L494.52,512.13 L495.64,511.38 L496.67,510.58 L497.59,509.73 L498.44,508.77 L499.24,507.71 L499.99,506.59 L500.72,505.44 L501.42,504.29 L502.11,503.16 L502.79,502.04 L503.46,500.90 L504.11,499.74 L504.74,498.57 L505.34,497.39 L505.91,496.20 L506.44,495.01 L506.94,493.80 L507.42,492.57 L507.87,491.33 L508.31,490.09 L508.74,488.83 L509.15,487.57 L509.54,486.31 L509.93,485.05 L510.32,483.78 L510.69,482.52 L511.05,481.25 L511.41,479.98 L511.75,478.71 L512.09,477.43 L512.42,476.16 L512.74,474.88 L513.06,473.60 L513.38,472.31 L513.70,471.03 L514.01,469.75 L514.33,468.47 L514.65,467.19 L514.96,465.91 L515.28,464.63 L515.59,463.35 L515.89,462.06 L516.19,460.78 L516.48,459.49 L516.77,458.20 L517.04,456.91 L517.30,455.62 L517.55,454.33 L517.80,453.03 L518.04,451.73 L518.27,450.44 L518.50,449.14 L518.73,447.84 L518.95,446.54 L519.17,445.23 L519.38,443.93 L519.60,442.63 L519.80,441.33 L520.01,440.03 L520.21,438.72 L520.41,437.42 L520.61,436.11 L520.80,434.81 L520.98,433.50 L521.17,432.20 L521.35,430.89 L521.52,429.58 L521.69,428.27 L521.86,426.97 L522.02,425.66 L522.18,424.35 L522.33,423.04 L522.49,421.73 L522.64,420.42 L522.80,419.11 L522.96,417.80 L523.12,416.49 L523.28,415.18 L523.44,413.87 L523.61,412.56 L523.78,411.25 L523.95,409.94 L524.12,408.64 L524.28,407.33 L524.44,406.02 L524.60,404.71 L524.75,403.40 L524.90,402.09 L525.04,400.78 L525.18,399.46 L525.32,398.15 L525.46,396.84 L525.60,395.53 L525.74,394.22 L525.88,392.91 L526.03,391.59 L526.18,390.28 L526.34,388.98 L526.51,387.67 L526.69,386.36 L526.87,385.05 L527.06,383.75 L527.24,382.44 L527.43,381.14 L527.60,379.83 L527.77,378.52 L527.93,377.21 L528.09,375.90 L528.24,374.59 L528.39,373.28 L528.54,371.97 L528.68,370.66 L528.82,369.35 L528.96,368.04 L529.10,366.72 L529.24,365.41 L529.38,364.10 L529.52,362.79 L529.66,361.48 L529.80,360.17 L529.94,358.85 L530.08,357.54 L530.22,356.23 L530.35,354.92 L530.48,353.60 L530.61,352.29 L530.73,350.98 L530.85,349.66 L530.96,348.35 L531.06,347.04 L531.17,345.72 L531.27,344.41 L531.37,343.09 L531.48,341.78 L531.58,340.46 L531.69,339.15 L531.80,337.83 L531.92,336.52 L532.04,335.20 L532.16,333.89 L532.29,332.58 L532.42,331.26 L532.55,329.95 L532.68,328.64 L532.82,327.33 L532.95,326.02 L533.09,324.70 L533.22,323.39 L533.36,322.08 L533.51,320.77 L533.65,319.46 L533.79,318.15 L533.93,316.83 L534.07,315.52 L534.21,314.21 L534.35,312.90 L534.48,311.59 L534.61,310.27 L534.74,308.96 L534.86,307.65 L534.98,306.33 L535.11,305.02 L535.23,303.71 L535.35,302.39 L535.47,301.08 L535.59,299.77 L535.71,298.45 L535.84,297.14 L535.96,295.83 L536.08,294.51 L536.20,293.20 L536.32,291.89 L536.45,290.57 L536.57,289.26 L536.70,287.95 L536.83,286.63 L536.96,285.32 L537.10,284.01 L537.25,282.70 L537.40,281.39 L537.57,280.08 L537.73,278.77 L537.90,277.46 L538.06,276.15 L538.21,274.84 L538.35,273.53 L538.47,272.22 L538.58,270.90 L538.69,269.59 L538.78,268.27 L538.88,266.96 L538.97,265.64 L539.05,264.32 L539.14,263.01 L539.24,261.69 L539.33,260.38 L539.44,259.06 L539.55,257.75 L539.67,256.44 L539.82,255.12 L539.97,253.81 L540.13,252.50 L540.30,251.20 L540.46,249.89 L540.61,248.58 L540.75,247.26 L540.88,245.95 L541.00,244.64 L541.11,243.32 L541.21,242.01 L541.31,240.69 L541.41,239.38 L541.51,238.06 L541.61,236.75 L541.71,235.43 L541.82,234.12 L541.93,232.80 L542.05,231.49 L542.17,230.18 L542.30,228.86 L542.44,227.55 L542.58,226.24 L542.72,224.93 L542.86,223.62 L543.00,222.30 L543.14,220.99 L543.28,219.68 L543.41,218.37 L543.55,217.06 L543.68,215.74 L543.82,214.43 L543.95,213.12 L544.09,211.81 L544.23,210.49 L544.37,209.18 L544.51,207.87 L544.66,206.56 L544.81,205.25 L544.96,203.94 L545.12,202.63 L545.30,201.32 L545.49,200.02 L545.69,198.71 L545.89,197.41 L546.07,196.10 L546.24,194.80 L546.37,193.48 L546.48,192.17 L546.59,190.85 L546.68,189.54 L546.76,188.22 L546.84,186.90 L546.92,185.58 L547.00,184.26 L547.09,182.94 L547.19,181.63 L547.30,180.32 L547.43,179.01 L547.59,177.71 L547.79,176.41 L548.03,175.11 L548.30,173.82 L548.59,172.53 L548.89,171.24 L549.18,169.95 L549.46,168.66 L549.71,167.36 L549.93,166.06 L550.15,164.76 L550.35,163.46 L550.55,162.15 L550.75,160.85 L550.95,159.54 L551.15,158.24 L551.35,156.94 L551.57,155.64 L551.79,154.34 L552.03,153.04 L552.28,151.75 L552.54,150.45 L552.81,149.16 L553.10,147.87 L553.40,146.58 L553.72,145.31 L554.06,144.03 L554.42,142.76 L554.81,141.48 L555.24,140.23 L555.72,139.01 L556.27,137.84 L556.95,136.70 L557.70,135.60 L557.90,135.60 L558.85,136.68 L559.71,137.81 L560.42,139.00 L561.03,140.25 L561.58,141.56 L562.09,142.90 L562.55,144.25 L562.99,145.59 L563.42,146.93 L563.84,148.29 L564.24,149.65 L564.62,151.02 L564.98,152.39 L565.30,153.77 L565.59,155.15 L565.84,156.54 L566.06,157.92 L566.25,159.32 L566.42,160.72 L566.58,162.13 L566.73,163.53 L566.88,164.94 L567.03,166.35 L567.18,167.76 L567.35,169.17 L567.53,170.57 L567.73,171.97 L567.96,173.37 L568.21,174.76 L568.47,176.15 L568.73,177.55 L568.97,178.94 L569.19,180.33 L569.37,181.73 L569.52,183.14 L569.64,184.54 L569.76,185.95 L569.86,187.36 L569.95,188.78 L570.03,190.19 L570.12,191.60 L570.21,193.02 L570.30,194.43 L570.40,195.84 L570.52,197.25 L570.65,198.65 L570.81,200.05 L571.02,201.45 L571.30,202.84 L571.59,204.22 L571.84,205.61 L572.04,207.01 L572.21,208.41 L572.38,209.82 L572.52,211.22 L572.66,212.63 L572.80,214.04 L572.93,215.45 L573.06,216.86 L573.19,218.27 L573.33,219.67 L573.47,221.08 L573.63,222.49 L573.80,223.89 L573.98,225.29 L574.21,226.68 L574.46,228.08 L574.73,229.47 L574.99,230.86 L575.22,232.26 L575.42,233.65 L575.56,235.06 L575.68,236.46 L575.78,237.87 L575.87,239.28 L575.95,240.69 L576.02,242.10 L576.10,243.52 L576.17,244.93 L576.25,246.35 L576.34,247.76 L576.44,249.17 L576.56,250.58 L576.69,251.98 L576.85,253.39 L577.01,254.79 L577.17,256.20 L577.34,257.60 L577.51,259.01 L577.66,260.41 L577.80,261.82 L577.94,263.22 L578.08,264.63 L578.22,266.04 L578.36,267.45 L578.49,268.85 L578.62,270.26 L578.75,271.67 L578.88,273.08 L579.00,274.48 L579.13,275.89 L579.25,277.30 L579.37,278.71 L579.49,280.12 L579.60,281.53 L579.72,282.94 L579.83,284.35 L579.95,285.76 L580.06,287.16 L580.18,288.57 L580.30,289.98 L580.43,291.39 L580.55,292.80 L580.67,294.21 L580.80,295.61 L580.92,297.02 L581.05,298.43 L581.18,299.84 L581.31,301.25 L581.44,302.65 L581.58,304.06 L581.73,305.47 L581.89,306.87 L582.04,308.28 L582.19,309.69 L582.33,311.09 L582.46,312.50 L582.57,313.91 L582.66,315.32 L582.73,316.73 L582.80,318.14 L582.86,319.56 L582.91,320.97 L582.96,322.39 L583.02,323.80 L583.09,325.21 L583.16,326.62 L583.25,328.03 L583.37,329.43 L583.54,330.83 L583.76,332.23 L584.01,333.63 L584.28,335.02 L584.54,336.41 L584.78,337.81 L584.98,339.21 L585.13,340.61 L585.24,342.02 L585.33,343.42 L585.42,344.84 L585.49,346.25 L585.56,347.66 L585.63,349.08 L585.71,350.49 L585.78,351.90 L585.87,353.31 L585.98,354.72 L586.10,356.13 L586.25,357.53 L586.41,358.94 L586.59,360.34 L586.78,361.74 L586.96,363.15 L587.14,364.55 L587.31,365.95 L587.47,367.36 L587.62,368.76 L587.77,370.17 L587.91,371.58 L588.05,372.98 L588.19,374.39 L588.33,375.80 L588.47,377.20 L588.61,378.61 L588.76,380.02 L588.91,381.42 L589.08,382.83 L589.25,384.23 L589.42,385.63 L589.60,387.03 L589.78,388.44 L589.95,389.84 L590.11,391.25 L590.26,392.65 L590.40,394.06 L590.53,395.47 L590.64,396.88 L590.75,398.29 L590.85,399.70 L590.96,401.11 L591.06,402.52 L591.18,403.93 L591.30,405.34 L591.43,406.74 L591.58,408.15 L591.76,409.55 L591.97,410.94 L592.22,412.33 L592.47,413.73 L592.73,415.12 L592.99,416.51 L593.23,417.90 L593.45,419.30 L593.63,420.70 L593.80,422.10 L593.95,423.51 L594.10,424.92 L594.24,426.32 L594.37,427.73 L594.51,429.14 L594.66,430.55 L594.81,431.95 L594.97,433.36 L595.15,434.76 L595.34,436.16 L595.55,437.55 L595.77,438.95 L596.00,440.35 L596.24,441.74 L596.47,443.14 L596.70,444.53 L596.91,445.93 L597.12,447.33 L597.32,448.73 L597.51,450.13 L597.70,451.53 L597.89,452.93 L598.08,454.33 L598.27,455.73 L598.47,457.13 L598.67,458.53 L598.88,459.93 L599.10,461.33 L599.33,462.72 L599.58,464.11 L599.83,465.50 L600.08,466.89 L600.34,468.28 L600.60,469.67 L600.86,471.06 L601.11,472.46 L601.36,473.85 L601.61,475.24 L601.85,476.63 L602.09,478.02 L602.34,479.42 L602.59,480.81 L602.84,482.20 L603.09,483.59 L603.35,484.98 L603.62,486.37 L603.89,487.76 L604.17,489.14 L604.45,490.53 L604.74,491.91 L605.04,493.30 L605.34,494.68 L605.66,496.06 L605.99,497.43 L606.33,498.80 L606.68,500.17 L607.04,501.54 L607.41,502.90 L607.79,504.26 L608.19,505.62 L608.59,506.98 L609.01,508.33 L609.43,509.68 L609.87,511.03 L610.32,512.36 L610.78,513.70 L611.24,515.03 L611.73,516.37 L612.23,517.70 L612.74,519.02 L613.27,520.33 L613.82,521.64 L614.39,522.93 L614.97,524.21 L615.59,525.48 L616.22,526.74 L616.89,528.01 L617.58,529.26 L618.31,530.49 L619.08,531.68 L619.88,532.82 L620.73,533.93 L621.64,535.10 L622.62,536.29 L623.65,537.35 L624.75,538.18 L625.92,538.66 L627.21,538.97 L628.61,539.22 L630.07,539.41 L631.53,539.55 L632.95,539.63 L634.36,539.69 L635.77,539.74 L637.19,539.78 L638.60,539.80 L640.01,539.78 L641.42,539.66 L642.83,539.50 L644.24,539.32 L645.64,539.18 L647.05,539.03 L648.46,538.87 L649.87,538.73 L651.28,538.63 L652.69,538.60 L654.10,538.64 L655.51,538.74 L656.92,538.86 L658.33,538.99 L659.73,539.14 L661.14,539.32 L662.54,539.51 L663.94,539.72 L665.34,539.90 L666.74,540.08 L668.14,540.27 L669.54,540.45 L670.95,540.63 L672.35,540.81 L673.75,540.99 L675.15,541.17 L676.56,541.34 L677.96,541.52 L679.36,541.69 L680.77,541.86 L682.17,542.03 L683.57,542.19 L684.98,542.35 L686.38,542.51 L687.79,542.67 L689.19,542.84 L690.60,543.01 L692.00,543.19 L693.41,543.36 L694.81,543.53 L696.22,543.70 L697.63,543.87 L699.03,544.03 L700.44,544.18 L701.85,544.33 L703.25,544.47 L704.66,544.59 L706.07,544.70 L707.48,544.80 L708.89,544.89 L710.30,544.96 L711.71,545.01 L713.12,545.05 L714.53,545.10 L715.94,545.14 L717.35,545.18 L718.77,545.22 L720.18,545.25 L721.60,545.29 L723.01,545.31 L724.42,545.34 L725.84,545.36 L727.25,545.38 L728.67,545.39 L730.08,545.40 L731.50,545.40 L732.91,545.40 L734.32,545.40 L735.74,545.40 L737.15,545.40 L738.56,545.40 L739.98,545.39 L741.39,545.39 L742.81,545.39 L744.22,545.39 L745.63,545.38 L747.05,545.38 L748.46,545.38 L749.87,545.37 L751.29,545.37 L752.70,545.36 L754.12,545.36 L755.53,545.35 L756.94,545.35 L758.36,545.34 L759.77,545.33 L761.18,545.33 L762.60,545.32 L764.01,545.31 L765.42,545.31 L766.84,545.30 L768.25,545.28 L769.66,545.25 L771.08,545.21 L772.49,545.16 L773.90,545.11 L775.32,545.05 L776.73,544.99 L778.14,544.92 L779.56,544.86 L780.97,544.80 L782.38,544.75 L783.80,544.70 L785.21,544.66 L786.62,544.63 L788.03,544.61 L789.45,544.60 L790.86,544.61 L792.27,544.62 L793.69,544.65 L795.10,544.68 L796.51,544.72 L797.93,544.77 L799.34,544.82 L800.75,544.87 L802.17,544.92 L803.58,544.97 L804.99,545.02 L806.41,545.07 L807.82,545.12 L809.23,545.15 L810.65,545.19 L812.06,545.21 L813.47,545.23 L814.89,545.26 L816.30,545.28 L817.71,545.30 L819.13,545.32 L820.54,545.35 L821.95,545.37 L823.37,545.39 L824.78,545.41 L826.19,545.43 L827.61,545.45 L829.02,545.46 L830.43,545.48 L831.85,545.50 L833.26,545.51 L834.68,545.53 L836.09,545.54 L837.50,545.55 L838.92,545.56 L840.33,545.57 L841.74,545.58 L843.16,545.59 L844.57,545.59 L845.99,545.60 L847.40,545.60" stroke="#f00" stroke-width="2.8" stroke-dasharray="13 13.7" stroke-dashoffset="0.7"/>
<path d="M123.80,524.94 L127.42,524.73 L131.04,524.52 L134.66,524.30 L138.28,524.08 L141.90,523.86 L145.51,523.64 L149.13,523.41 L152.75,523.18 L156.37,522.95 L159.99,522.72 L163.61,522.49 L167.23,522.25 L170.85,522.01 L174.47,521.77 L178.09,521.53 L181.70,521.28 L185.32,521.04 L188.94,520.79 L192.56,520.54 L196.18,520.29 L199.80,520.03 L203.42,519.78 L207.04,519.52 L210.66,519.26 L214.28,519.00 L217.89,518.74 L221.51,518.48 L225.13,518.21 L228.75,517.94 L232.37,517.68 L235.99,517.41 L239.61,517.14 L243.23,516.86 L246.85,516.59 L250.47,516.32 L254.08,516.04 L257.70,515.77 L261.32,515.49 L264.94,515.21 L268.56,514.94 L272.18,514.66 L275.80,514.38 L279.42,514.11 L283.04,513.83 L286.65,513.55 L290.27,513.27 L293.89,513.00 L297.51,512.72 L301.13,512.44 L304.75,512.17 L308.37,511.90 L311.99,511.62 L315.61,511.35 L319.23,511.08 L322.85,510.82 L326.46,510.55 L330.08,510.29 L333.70,510.02 L337.32,509.76 L340.94,509.51 L344.56,509.25 L348.18,509.00 L351.80,508.76 L355.42,508.51 L359.04,508.27 L362.65,508.03 L366.27,507.80 L369.89,507.57 L373.51,507.35 L377.13,507.13 L380.75,506.91 L384.37,506.70 L387.99,506.50 L391.61,506.30 L395.23,506.11 L398.84,505.92 L402.46,505.74 L406.08,505.56 L409.70,505.39 L413.32,505.23 L416.94,505.07 L420.56,504.92 L424.18,504.78 L427.80,504.65 L431.42,504.52 L435.03,504.40 L438.65,504.29 L442.27,504.18 L445.89,504.08 L449.51,504.00 L453.13,503.92 L456.75,503.84 L460.37,503.78 L463.99,503.72 L467.61,503.68 L471.22,503.64 L474.84,503.61 L478.46,503.59 L482.08,503.57 L485.70,503.57 L489.32,503.57 L492.94,503.59 L496.56,503.61 L500.18,503.64 L503.80,503.68 L507.41,503.72 L511.03,503.78 L514.65,503.84 L518.27,503.92 L521.89,504.00 L525.51,504.08 L529.13,504.18 L532.75,504.29 L536.37,504.40 L539.99,504.52 L543.60,504.65 L547.22,504.78 L550.84,504.92 L554.46,505.07 L558.08,505.23 L561.70,505.39 L565.32,505.56 L568.94,505.74 L572.56,505.92 L576.18,506.11 L579.79,506.30 L583.41,506.50 L587.03,506.70 L590.65,506.91 L594.27,507.13 L597.89,507.35 L601.51,507.57 L605.13,507.80 L608.75,508.03 L612.37,508.27 L615.98,508.51 L619.60,508.76 L623.22,509.00 L626.84,509.25 L630.46,509.51 L634.08,509.76 L637.70,510.02 L641.32,510.29 L644.94,510.55 L648.55,510.82 L652.17,511.08 L655.79,511.35 L659.41,511.62 L663.03,511.90 L666.65,512.17 L670.27,512.44 L673.89,512.72 L677.51,513.00 L681.13,513.27 L684.75,513.55 L688.36,513.83 L691.98,514.11 L695.60,514.38 L699.22,514.66 L702.84,514.94 L706.46,515.21 L710.08,515.49 L713.70,515.77 L717.32,516.04 L720.94,516.32 L724.55,516.59 L728.17,516.86 L731.79,517.14 L735.41,517.41 L739.03,517.68 L742.65,517.94 L746.27,518.21 L749.89,518.48 L753.51,518.74 L757.12,519.00 L760.74,519.26 L764.36,519.52 L767.98,519.78 L771.60,520.03 L775.22,520.29 L778.84,520.54 L782.46,520.79 L786.08,521.04 L789.70,521.28 L793.32,521.53 L796.93,521.77 L800.55,522.01 L804.17,522.25 L807.79,522.49 L811.41,522.72 L815.03,522.95 L818.65,523.18 L822.27,523.41 L825.89,523.64 L829.50,523.86 L833.12,524.08 L836.74,524.30 L840.36,524.52 L843.98,524.73 L847.60,524.94" stroke="#0f0" stroke-width="2.8" stroke-dasharray="15.3 6.8 3.9 7"/>
<path d="M123.80,545.90 L124.28,545.90 L124.77,545.90 L125.25,545.90 L125.73,545.90 L126.21,545.90 L126.70,545.90 L127.18,545.90 L127.66,545.90 L128.14,545.90 L128.63,545.90 L129.11,545.90 L129.59,545.90 L130.07,545.90 L130.56,545.90 L131.04,545.90 L131.52,545.90 L132.00,545.90 L132.49,545.90 L132.97,545.90 L133.45,545.90 L133.93,545.90 L134.42,545.90 L134.90,545.90 L135.38,545.90 L135.86,545.90 L136.35,545.90 L136.83,545.90 L137.31,545.90 L137.79,545.90 L138.28,545.90 L138.76,545.90 L139.24,545.90 L139.72,545.90 L140.21,545.90 L140.69,545.90 L141.17,545.90 L141.65,545.90 L142.14,545.90 L142.62,545.90 L143.10,545.90 L143.58,545.90 L144.07,545.90 L144.55,545.90 L145.03,545.90 L145.51,545.90 L146.00,545.90 L146.48,545.90 L146.96,545.90 L147.44,545.90 L147.93,545.90 L148.41,545.90 L148.89,545.90 L149.37,545.90 L149.86,545.90 L150.34,545.90 L150.82,545.90 L151.30,545.90 L151.79,545.90 L152.27,545.90 L152.75,545.90 L153.23,545.90 L153.72,545.90 L154.20,545.90 L154.68,545.90 L155.16,545.90 L155.65,545.90 L156.13,545.90 L156.61,545.90 L157.09,545.90 L157.58,545.90 L158.06,545.90 L158.54,545.90 L159.02,545.90 L159.51,545.90 L159.99,545.90 L160.47,545.90 L160.96,545.90 L161.44,545.90 L161.92,545.90 L162.40,545.90 L162.89,545.90 L163.37,545.90 L163.85,545.90 L164.33,545.90 L164.82,545.90 L165.30,545.90 L165.78,545.90 L166.26,545.90 L166.75,545.90 L167.23,545.90 L167.71,545.90 L168.19,545.90 L168.68,545.90 L169.16,545.90 L169.64,545.90 L170.12,545.90 L170.61,545.90 L171.09,545.90 L171.57,545.90 L172.05,545.90 L172.54,545.90 L173.02,545.90 L173.50,545.90 L173.98,545.90 L174.47,545.90 L174.95,545.90 L175.43,545.90 L175.91,545.90 L176.40,545.90 L176.88,545.90 L177.36,545.90 L177.84,545.90 L178.33,545.90 L178.81,545.90 L179.29,545.90 L179.77,545.90 L180.26,545.90 L180.74,545.90 L181.22,545.90 L181.70,545.90 L182.19,545.90 L182.67,545.90 L183.15,545.90 L183.63,545.90 L184.12,545.90 L184.60,545.90 L185.08,545.90 L185.56,545.90 L186.05,545.90 L186.53,545.90 L187.01,545.90 L187.49,545.90 L187.98,545.90 L188.46,545.90 L188.94,545.90 L189.42,545.90 L189.91,545.90 L190.39,545.90 L190.87,545.90 L191.35,545.90 L191.84,545.90 L192.32,545.90 L192.80,545.90 L193.28,545.90 L193.77,545.90 L194.25,545.90 L194.73,545.90 L195.21,545.90 L195.70,545.90 L196.18,545.90 L196.66,545.90 L197.15,545.90 L197.63,545.90 L198.11,545.90 L198.59,545.90 L199.08,545.90 L199.56,545.90 L200.04,545.90 L200.52,545.90 L201.01,545.90 L201.49,545.90 L201.97,545.90 L202.45,545.90 L202.94,545.90 L203.42,545.90 L203.90,545.90 L204.38,545.90 L204.87,545.90 L205.35,545.90 L205.83,545.90 L206.31,545.90 L206.80,545.90 L207.28,545.90 L207.76,545.90 L208.24,545.90 L208.73,545.90 L209.21,545.90 L209.69,545.90 L210.17,545.90 L210.66,545.90 L211.14,545.90 L211.62,545.90 L212.10,545.90 L212.59,545.90 L213.07,545.90 L213.55,545.90 L214.03,545.90 L214.52,545.90 L215.00,545.90 L215.48,545.90 L215.96,545.90 L216.45,545.90 L216.93,545.90 L217.41,545.90 L217.89,545.90 L218.38,545.90 L218.86,545.90 L219.34,545.90 L219.82,545.90 L220.31,545.90 L220.79,545.90 L221.27,545.90 L221.75,545.90 L222.24,545.90 L222.72,545.90 L223.20,545.90 L223.68,545.90 L224.17,545.90 L224.65,545.90 L225.13,545.90 L225.61,545.90 L226.10,545.90 L226.58,545.90 L227.06,545.90 L227.54,545.90 L228.03,545.90 L228.51,545.90 L228.99,545.90 L229.47,545.90 L229.96,545.90 L230.44,545.90 L230.92,545.90 L231.40,545.90 L231.89,545.90 L232.37,545.90 L232.85,545.90 L233.34,545.90 L233.82,545.90 L234.30,545.90 L234.78,545.90 L235.27,545.90 L235.75,545.90 L236.23,545.90 L236.71,545.90 L237.20,545.90 L237.68,545.90 L238.16,545.90 L238.64,545.90 L239.13,545.90 L239.61,545.90 L240.09,545.90 L240.57,545.90 L241.06,545.90 L241.54,545.90 L242.02,545.90 L242.50,545.90 L242.99,545.90 L243.47,545.90 L243.95,545.90 L244.43,545.90 L244.92,545.90 L245.40,545.90 L245.88,545.90 L246.36,545.90 L246.85,545.90 L247.33,545.90 L247.81,545.90 L248.29,545.90 L248.78,545.90 L249.26,545.90 L249.74,545.90 L250.22,545.90 L250.71,545.90 L251.19,545.90 L251.67,545.90 L252.15,545.90 L252.64,545.90 L253.12,545.90 L253.60,545.90 L254.08,545.90 L254.57,545.90 L255.05,545.90 L255.53,545.90 L256.01,545.90 L256.50,545.90 L256.98,545.90 L257.46,545.90 L257.94,545.90 L258.43,545.90 L258.91,545.90 L259.39,545.90 L259.87,545.90 L260.36,545.90 L260.84,545.90 L261.32,545.90 L261.80,545.90 L262.29,545.90 L262.77,545.90 L263.25,545.90 L263.73,545.90 L264.22,545.90 L264.70,545.90 L265.18,545.90 L265.66,545.90 L266.15,545.90 L266.63,545.90 L267.11,545.90 L267.59,545.90 L268.08,545.90 L268.56,545.90 L269.04,545.90 L269.53,545.90 L270.01,545.90 L270.49,545.90 L270.97,545.90 L271.46,545.90 L271.94,545.90 L272.42,545.90 L272.90,545.90 L273.39,545.90 L273.87,545.90 L274.35,545.90 L274.83,545.90 L275.32,545.90 L275.80,545.90 L276.28,545.90 L276.76,545.90 L277.25,545.90 L277.73,545.90 L278.21,545.90 L278.69,545.90 L279.18,545.90 L279.66,545.90 L280.14,545.90 L280.62,545.90 L281.11,545.90 L281.59,545.90 L282.07,545.90 L282.55,545.90 L283.04,545.90 L283.52,545.90 L284.00,545.90 L284.48,545.90 L284.97,545.90 L285.45,545.90 L285.93,545.90 L286.41,545.90 L286.90,545.90 L287.38,545.90 L287.86,545.90 L288.34,545.90 L288.83,545.90 L289.31,545.90 L289.79,545.90 L290.27,545.90 L290.76,545.90 L291.24,545.90 L291.72,545.90 L292.20,545.90 L292.69,545.90 L293.17,545.90 L293.65,545.90 L294.13,545.90 L294.62,545.90 L295.10,545.90 L295.58,545.90 L296.06,545.90 L296.55,545.90 L297.03,545.90 L297.51,545.90 L297.99,545.90 L298.48,545.90 L298.96,545.90 L299.44,545.90 L299.92,545.90 L300.41,545.90 L300.89,545.90 L301.37,545.90 L301.85,545.90 L302.34,545.90 L302.82,545.90 L303.30,545.90 L303.78,545.90 L304.27,545.90 L304.75,545.90 L305.23,545.90 L305.72,545.90 L306.20,545.90 L306.68,545.90 L307.16,545.90 L307.65,545.90 L308.13,545.90 L308.61,545.90 L309.09,545.90 L309.58,545.90 L310.06,545.90 L310.54,545.90 L311.02,545.90 L311.51,545.90 L311.99,545.90 L312.47,545.90 L312.95,545.90 L313.44,545.90 L313.92,545.90 L314.40,545.90 L314.88,545.90 L315.37,545.90 L315.85,545.90 L316.33,545.90 L316.81,545.90 L317.30,545.90 L317.78,545.90 L318.26,545.90 L318.74,545.90 L319.23,545.90 L319.71,545.90 L320.19,545.90 L320.67,545.90 L321.16,545.90 L321.64,545.90 L322.12,545.90 L322.60,545.90 L323.09,545.90 L323.57,545.90 L324.05,545.90 L324.53,545.90 L325.02,545.90 L325.50,545.90 L325.98,545.90 L326.46,545.90 L326.95,545.90 L327.43,545.90 L327.91,545.90 L328.39,545.90 L328.88,545.90 L329.36,545.90 L329.84,545.90 L330.32,545.90 L330.81,545.90 L331.29,545.90 L331.77,545.90 L332.25,545.90 L332.74,545.90 L333.22,545.90 L333.70,545.90 L334.18,545.90 L334.67,545.90 L335.15,545.90 L335.63,545.90 L336.11,545.90 L336.60,545.90 L337.08,545.90 L337.56,545.90 L338.04,545.90 L338.53,545.90 L339.01,545.90 L339.49,545.90 L339.97,545.90 L340.46,545.90 L340.94,545.90 L341.42,545.90 L341.91,545.90 L342.39,545.90 L342.87,545.90 L343.35,545.90 L343.84,545.90 L344.32,545.89 L344.80,545.89 L345.28,545.89 L345.77,545.89 L346.25,545.89 L346.73,545.89 L347.21,545.89 L347.70,545.88 L348.18,545.88 L348.66,545.88 L349.14,545.87 L349.63,545.87 L350.11,545.86 L350.59,545.86 L351.07,545.85 L351.56,545.85 L352.04,545.84 L352.52,545.83 L353.00,545.82 L353.49,545.80 L353.97,545.79 L354.45,545.77 L354.93,545.76 L355.42,545.73 L355.90,545.71 L356.38,545.68 L356.86,545.65 L357.35,545.62 L357.83,545.58 L358.31,545.54 L358.79,545.49 L359.28,545.43 L359.76,545.37 L360.24,545.30 L360.72,545.23 L361.21,545.14 L361.69,545.04 L362.17,544.93 L362.65,544.81 L363.14,544.68 L363.62,544.53 L364.10,544.36 L364.58,544.18 L365.07,543.97 L365.55,543.75 L366.03,543.50 L366.51,543.22 L367.00,542.91 L367.48,542.58 L367.96,542.21 L368.44,541.80 L368.93,541.35 L369.41,540.86 L369.89,540.33 L370.37,539.74 L370.86,539.10 L371.34,538.40 L371.82,537.64 L372.30,536.81 L372.79,535.91 L373.27,534.93 L373.75,533.87 L374.23,532.72 L374.72,531.48 L375.20,530.13 L375.68,528.68 L376.16,527.12 L376.65,525.45 L377.13,523.64 L377.61,521.70 L378.10,519.63 L378.58,517.41 L379.06,515.03 L379.54,512.49 L380.03,509.79 L380.51,506.91 L380.99,503.84 L381.47,500.59 L381.96,497.14 L382.44,493.48 L382.92,489.61 L383.40,485.53 L383.89,481.22 L384.37,476.67 L384.85,471.89 L385.33,466.87 L385.82,461.60 L386.30,456.08 L386.78,450.31 L387.26,444.28 L387.75,437.98 L388.23,431.43 L388.71,424.61 L389.19,417.53 L389.68,410.18 L390.16,402.57 L390.64,394.71 L391.12,386.59 L391.61,378.22 L392.09,369.61 L392.57,360.76 L393.05,351.68 L393.54,342.38 L394.02,332.88 L394.50,323.18 L394.98,313.29 L395.47,303.24 L395.95,293.03 L396.43,282.69 L396.91,272.23 L397.40,261.66 L397.88,251.02 L398.36,240.32 L398.84,229.59 L399.33,218.83 L399.81,208.09 L400.29,197.39 L400.77,186.74 L401.26,176.18 L401.74,165.73 L402.22,155.43 L402.70,145.28 L403.19,135.33 L403.67,125.60 L404.15,116.12 L404.63,106.91 L405.12,98.00 L405.60,89.42 L406.08,81.19 L406.56,73.34 L407.05,65.89 L407.53,58.86 L408.01,52.28 L408.49,46.17 L408.98,40.54 L409.46,35.41 L409.94,30.81 L410.42,26.74 L410.91,23.22 L411.39,20.26 L411.87,17.87 L412.35,16.06 L412.84,14.84 L413.32,14.20 L413.80,14.15 L414.29,14.70 L414.77,15.83 L415.25,17.54 L415.73,19.84 L416.22,22.71 L416.70,26.14 L417.18,30.12 L417.66,34.64 L418.15,39.68 L418.63,45.23 L419.11,51.27 L419.59,57.77 L420.08,64.73 L420.56,72.12 L421.04,79.91 L421.52,88.08 L422.01,96.60 L422.49,105.46 L422.97,114.62 L423.45,124.06 L423.94,133.75 L424.42,143.67 L424.90,153.79 L425.38,164.07 L425.87,174.50 L426.35,185.04 L426.83,195.67 L427.31,206.37 L427.80,217.11 L428.28,227.86 L428.76,238.60 L429.24,249.31 L429.73,259.96 L430.21,270.54 L430.69,281.02 L431.17,291.38 L431.66,301.61 L432.14,311.69 L432.62,321.60 L433.10,331.33 L433.59,340.87 L434.07,350.20 L434.55,359.31 L435.03,368.20 L435.52,376.85 L436.00,385.26 L436.48,393.42 L436.96,401.33 L437.45,408.98 L437.93,416.36 L438.41,423.49 L438.89,430.35 L439.38,436.95 L439.86,443.28 L440.34,449.36 L440.82,455.18 L441.31,460.74 L441.79,466.04 L442.27,471.10 L442.75,475.92 L443.24,480.50 L443.72,484.85 L444.20,488.97 L444.68,492.87 L445.17,496.57 L445.65,500.05 L446.13,503.33 L446.61,506.43 L447.10,509.34 L447.58,512.07 L448.06,514.63 L448.54,517.04 L449.03,519.28 L449.51,521.38 L449.99,523.34 L450.48,525.16 L450.96,526.86 L451.44,528.44 L451.92,529.91 L452.41,531.27 L452.89,532.52 L453.37,533.69 L453.85,534.76 L454.34,535.75 L454.82,536.67 L455.30,537.51 L455.78,538.28 L456.27,538.99 L456.75,539.64 L457.23,540.24 L457.71,540.78 L458.20,541.28 L458.68,541.73 L459.16,542.14 L459.64,542.52 L460.13,542.86 L460.61,543.17 L461.09,543.45 L461.57,543.71 L462.06,543.94 L462.54,544.15 L463.02,544.33 L463.50,544.50 L463.99,544.66 L464.47,544.79 L464.95,544.92 L465.43,545.03 L465.92,545.12 L466.40,545.21 L466.88,545.29 L467.36,545.36 L467.85,545.43 L468.33,545.48 L468.81,545.53 L469.29,545.58 L469.78,545.61 L470.26,545.65 L470.74,545.68 L471.22,545.71 L471.71,545.73 L472.19,545.75 L472.67,545.77 L473.15,545.79 L473.64,545.80 L474.12,545.81 L474.60,545.83 L475.08,545.84 L475.57,545.84 L476.05,545.85 L476.53,545.86 L477.01,545.86 L477.50,545.87 L477.98,545.87 L478.46,545.88 L478.94,545.88 L479.43,545.88 L479.91,545.88 L480.39,545.89 L480.87,545.89 L481.36,545.89 L481.84,545.89 L482.32,545.89 L482.80,545.89 L483.29,545.89 L483.77,545.89 L484.25,545.90 L484.73,545.90 L485.22,545.90 L485.70,545.90 L486.18,545.90 L486.67,545.90 L487.15,545.90 L487.63,545.89 L488.11,545.89 L488.60,545.89 L489.08,545.89 L489.56,545.89 L490.04,545.89 L490.53,545.89 L491.01,545.89 L491.49,545.88 L491.97,545.88 L492.46,545.88 L492.94,545.88 L493.42,545.87 L493.90,545.87 L494.39,545.86 L494.87,545.86 L495.35,545.85 L495.83,545.84 L496.32,545.84 L496.80,545.83 L497.28,545.81 L497.76,545.80 L498.25,545.79 L498.73,545.77 L499.21,545.75 L499.69,545.73 L500.18,545.71 L500.66,545.68 L501.14,545.65 L501.62,545.61 L502.11,545.58 L502.59,545.53 L503.07,545.48 L503.55,545.43 L504.04,545.36 L504.52,545.29 L505.00,545.21 L505.48,545.12 L505.97,545.03 L506.45,544.92 L506.93,544.79 L507.41,544.66 L507.90,544.50 L508.38,544.33 L508.86,544.15 L509.34,543.94 L509.83,543.71 L510.31,543.45 L510.79,543.17 L511.27,542.86 L511.76,542.52 L512.24,542.14 L512.72,541.73 L513.20,541.28 L513.69,540.78 L514.17,540.24 L514.65,539.64 L515.13,538.99 L515.62,538.28 L516.10,537.51 L516.58,536.67 L517.06,535.75 L517.55,534.76 L518.03,533.69 L518.51,532.52 L518.99,531.27 L519.48,529.91 L519.96,528.44 L520.44,526.86 L520.92,525.16 L521.41,523.34 L521.89,521.38 L522.37,519.28 L522.86,517.04 L523.34,514.63 L523.82,512.07 L524.30,509.34 L524.79,506.43 L525.27,503.33 L525.75,500.05 L526.23,496.57 L526.72,492.87 L527.20,488.97 L527.68,484.85 L528.16,480.50 L528.65,475.92 L529.13,471.10 L529.61,466.04 L530.09,460.74 L530.58,455.18 L531.06,449.36 L531.54,443.28 L532.02,436.95 L532.51,430.35 L532.99,423.49 L533.47,416.36 L533.95,408.98 L534.44,401.33 L534.92,393.42 L535.40,385.26 L535.88,376.85 L536.37,368.20 L536.85,359.31 L537.33,350.20 L537.81,340.87 L538.30,331.33 L538.78,321.60 L539.26,311.69 L539.74,301.61 L540.23,291.38 L540.71,281.02 L541.19,270.54 L541.67,259.96 L542.16,249.31 L542.64,238.60 L543.12,227.86 L543.60,217.11 L544.09,206.37 L544.57,195.67 L545.05,185.04 L545.53,174.50 L546.02,164.07 L546.50,153.79 L546.98,143.67 L547.46,133.75 L547.95,124.06 L548.43,114.62 L548.91,105.46 L549.39,96.60 L549.88,88.08 L550.36,79.91 L550.84,72.12 L551.32,64.73 L551.81,57.77 L552.29,51.27 L552.77,45.23 L553.25,39.68 L553.74,34.64 L554.22,30.12 L554.70,26.14 L555.18,22.71 L555.67,19.84 L556.15,17.54 L556.63,15.83 L557.11,14.70 L557.60,14.15 L558.08,14.20 L558.56,14.84 L559.05,16.06 L559.53,17.87 L560.01,20.26 L560.49,23.22 L560.98,26.74 L561.46,30.81 L561.94,35.41 L562.42,40.54 L562.91,46.17 L563.39,52.28 L563.87,58.86 L564.35,65.89 L564.84,73.34 L565.32,81.19 L565.80,89.42 L566.28,98.00 L566.77,106.91 L567.25,116.12 L567.73,125.60 L568.21,135.33 L568.70,145.28 L569.18,155.43 L569.66,165.73 L570.14,176.18 L570.63,186.74 L571.11,197.39 L571.59,208.09 L572.07,218.83 L572.56,229.59 L573.04,240.32 L573.52,251.02 L574.00,261.66 L574.49,272.23 L574.97,282.69 L575.45,293.03 L575.93,303.24 L576.42,313.29 L576.90,323.18 L577.38,332.88 L577.86,342.38 L578.35,351.68 L578.83,360.76 L579.31,369.61 L579.79,378.22 L580.28,386.59 L580.76,394.71 L581.24,402.57 L581.72,410.18 L582.21,417.53 L582.69,424.61 L583.17,431.43 L583.65,437.98 L584.14,444.28 L584.62,450.31 L585.10,456.08 L585.58,461.60 L586.07,466.87 L586.55,471.89 L587.03,476.67 L587.51,481.22 L588.00,485.53 L588.48,489.61 L588.96,493.48 L589.44,497.14 L589.93,500.59 L590.41,503.84 L590.89,506.91 L591.37,509.79 L591.86,512.49 L592.34,515.03 L592.82,517.41 L593.30,519.63 L593.79,521.70 L594.27,523.64 L594.75,525.45 L595.24,527.12 L595.72,528.68 L596.20,530.13 L596.68,531.48 L597.17,532.72 L597.65,533.87 L598.13,534.93 L598.61,535.91 L599.10,536.81 L599.58,537.64 L600.06,538.40 L600.54,539.10 L601.03,539.74 L601.51,540.33 L601.99,540.86 L602.47,541.35 L602.96,541.80 L603.44,542.21 L603.92,542.58 L604.40,542.91 L604.89,543.22 L605.37,543.50 L605.85,543.75 L606.33,543.97 L606.82,544.18 L607.30,544.36 L607.78,544.53 L608.26,544.68 L608.75,544.81 L609.23,544.93 L609.71,545.04 L610.19,545.14 L610.68,545.23 L611.16,545.30 L611.64,545.37 L612.12,545.43 L612.61,545.49 L613.09,545.54 L613.57,545.58 L614.05,545.62 L614.54,545.65 L615.02,545.68 L615.50,545.71 L615.98,545.73 L616.47,545.76 L616.95,545.77 L617.43,545.79 L617.91,545.80 L618.40,545.82 L618.88,545.83 L619.36,545.84 L619.84,545.85 L620.33,545.85 L620.81,545.86 L621.29,545.86 L621.77,545.87 L622.26,545.87 L622.74,545.88 L623.22,545.88 L623.70,545.88 L624.19,545.89 L624.67,545.89 L625.15,545.89 L625.63,545.89 L626.12,545.89 L626.60,545.89 L627.08,545.89 L627.56,545.90 L628.05,545.90 L628.53,545.90 L629.01,545.90 L629.49,545.90 L629.98,545.90 L630.46,545.90 L630.94,545.90 L631.43,545.90 L631.91,545.90 L632.39,545.90 L632.87,545.90 L633.36,545.90 L633.84,545.90 L634.32,545.90 L634.80,545.90 L635.29,545.90 L635.77,545.90 L636.25,545.90 L636.73,545.90 L637.22,545.90 L637.70,545.90 L638.18,545.90 L638.66,545.90 L639.15,545.90 L639.63,545.90 L640.11,545.90 L640.59,545.90 L641.08,545.90 L641.56,545.90 L642.04,545.90 L642.52,545.90 L643.01,545.90 L643.49,545.90 L643.97,545.90 L644.45,545.90 L644.94,545.90 L645.42,545.90 L645.90,545.90 L646.38,545.90 L646.87,545.90 L647.35,545.90 L647.83,545.90 L648.31,545.90 L648.80,545.90 L649.28,545.90 L649.76,545.90 L650.24,545.90 L650.73,545.90 L651.21,545.90 L651.69,545.90 L652.17,545.90 L652.66,545.90 L653.14,545.90 L653.62,545.90 L654.10,545.90 L654.59,545.90 L655.07,545.90 L655.55,545.90 L656.03,545.90 L656.52,545.90 L657.00,545.90 L657.48,545.90 L657.96,545.90 L658.45,545.90 L658.93,545.90 L659.41,545.90 L659.89,545.90 L660.38,545.90 L660.86,545.90 L661.34,545.90 L661.82,545.90 L662.31,545.90 L662.79,545.90 L663.27,545.90 L663.75,545.90 L664.24,545.90 L664.72,545.90 L665.20,545.90 L665.68,545.90 L666.17,545.90 L666.65,545.90 L667.13,545.90 L667.62,545.90 L668.10,545.90 L668.58,545.90 L669.06,545.90 L669.55,545.90 L670.03,545.90 L670.51,545.90 L670.99,545.90 L671.48,545.90 L671.96,545.90 L672.44,545.90 L672.92,545.90 L673.41,545.90 L673.89,545.90 L674.37,545.90 L674.85,545.90 L675.34,545.90 L675.82,545.90 L676.30,545.90 L676.78,545.90 L677.27,545.90 L677.75,545.90 L678.23,545.90 L678.71,545.90 L679.20,545.90 L679.68,545.90 L680.16,545.90 L680.64,545.90 L681.13,545.90 L681.61,545.90 L682.09,545.90 L682.57,545.90 L683.06,545.90 L683.54,545.90 L684.02,545.90 L684.50,545.90 L684.99,545.90 L685.47,545.90 L685.95,545.90 L686.43,545.90 L686.92,545.90 L687.40,545.90 L687.88,545.90 L688.36,545.90 L688.85,545.90 L689.33,545.90 L689.81,545.90 L690.29,545.90 L690.78,545.90 L691.26,545.90 L691.74,545.90 L692.22,545.90 L692.71,545.90 L693.19,545.90 L693.67,545.90 L694.15,545.90 L694.64,545.90 L695.12,545.90 L695.60,545.90 L696.08,545.90 L696.57,545.90 L697.05,545.90 L697.53,545.90 L698.01,545.90 L698.50,545.90 L698.98,545.90 L699.46,545.90 L699.94,545.90 L700.43,545.90 L700.91,545.90 L701.39,545.90 L701.87,545.90 L702.36,545.90 L702.84,545.90 L703.32,545.90 L703.81,545.90 L704.29,545.90 L704.77,545.90 L705.25,545.90 L705.74,545.90 L706.22,545.90 L706.70,545.90 L707.18,545.90 L707.67,545.90 L708.15,545.90 L708.63,545.90 L709.11,545.90 L709.60,545.90 L710.08,545.90 L710.56,545.90 L711.04,545.90 L711.53,545.90 L712.01,545.90 L712.49,545.90 L712.97,545.90 L713.46,545.90 L713.94,545.90 L714.42,545.90 L714.90,545.90 L715.39,545.90 L715.87,545.90 L716.35,545.90 L716.83,545.90 L717.32,545.90 L717.80,545.90 L718.28,545.90 L718.76,545.90 L719.25,545.90 L719.73,545.90 L720.21,545.90 L720.69,545.90 L721.18,545.90 L721.66,545.90 L722.14,545.90 L722.62,545.90 L723.11,545.90 L723.59,545.90 L724.07,545.90 L724.55,545.90 L725.04,545.90 L725.52,545.90 L726.00,545.90 L726.48,545.90 L726.97,545.90 L727.45,545.90 L727.93,545.90 L728.41,545.90 L728.90,545.90 L729.38,545.90 L729.86,545.90 L730.34,545.90 L730.83,545.90 L731.31,545.90 L731.79,545.90 L732.27,545.90 L732.76,545.90 L733.24,545.90 L733.72,545.90 L734.20,545.90 L734.69,545.90 L735.17,545.90 L735.65,545.90 L736.13,545.90 L736.62,545.90 L737.10,545.90 L737.58,545.90 L738.06,545.90 L738.55,545.90 L739.03,545.90 L739.51,545.90 L740.00,545.90 L740.48,545.90 L740.96,545.90 L741.44,545.90 L741.93,545.90 L742.41,545.90 L742.89,545.90 L743.37,545.90 L743.86,545.90 L744.34,545.90 L744.82,545.90 L745.30,545.90 L745.79,545.90 L746.27,545.90 L746.75,545.90 L747.23,545.90 L747.72,545.90 L748.20,545.90 L748.68,545.90 L749.16,545.90 L749.65,545.90 L750.13,545.90 L750.61,545.90 L751.09,545.90 L751.58,545.90 L752.06,545.90 L752.54,545.90 L753.02,545.90 L753.51,545.90 L753.99,545.90 L754.47,545.90 L754.95,545.90 L755.44,545.90 L755.92,545.90 L756.40,545.90 L756.88,545.90 L757.37,545.90 L757.85,545.90 L758.33,545.90 L758.81,545.90 L759.30,545.90 L759.78,545.90 L760.26,545.90 L760.74,545.90 L761.23,545.90 L761.71,545.90 L762.19,545.90 L762.67,545.90 L763.16,545.90 L763.64,545.90 L764.12,545.90 L764.60,545.90 L765.09,545.90 L765.57,545.90 L766.05,545.90 L766.53,545.90 L767.02,545.90 L767.50,545.90 L767.98,545.90 L768.46,545.90 L768.95,545.90 L769.43,545.90 L769.91,545.90 L770.39,545.90 L770.88,545.90 L771.36,545.90 L771.84,545.90 L772.32,545.90 L772.81,545.90 L773.29,545.90 L773.77,545.90 L774.25,545.90 L774.74,545.90 L775.22,545.90 L775.70,545.90 L776.19,545.90 L776.67,545.90 L777.15,545.90 L777.63,545.90 L778.12,545.90 L778.60,545.90 L779.08,545.90 L779.56,545.90 L780.05,545.90 L780.53,545.90 L781.01,545.90 L781.49,545.90 L781.98,545.90 L782.46,545.90 L782.94,545.90 L783.42,545.90 L783.91,545.90 L784.39,545.90 L784.87,545.90 L785.35,545.90 L785.84,545.90 L786.32,545.90 L786.80,545.90 L787.28,545.90 L787.77,545.90 L788.25,545.90 L788.73,545.90 L789.21,545.90 L789.70,545.90 L790.18,545.90 L790.66,545.90 L791.14,545.90 L791.63,545.90 L792.11,545.90 L792.59,545.90 L793.07,545.90 L793.56,545.90 L794.04,545.90 L794.52,545.90 L795.00,545.90 L795.49,545.90 L795.97,545.90 L796.45,545.90 L796.93,545.90 L797.42,545.90 L797.90,545.90 L798.38,545.90 L798.86,545.90 L799.35,545.90 L799.83,545.90 L800.31,545.90 L800.79,545.90 L801.28,545.90 L801.76,545.90 L802.24,545.90 L802.72,545.90 L803.21,545.90 L803.69,545.90 L804.17,545.90 L804.65,545.90 L805.14,545.90 L805.62,545.90 L806.10,545.90 L806.58,545.90 L807.07,545.90 L807.55,545.90 L808.03,545.90 L808.51,545.90 L809.00,545.90 L809.48,545.90 L809.96,545.90 L810.44,545.90 L810.93,545.90 L811.41,545.90 L811.89,545.90 L812.38,545.90 L812.86,545.90 L813.34,545.90 L813.82,545.90 L814.31,545.90 L814.79,545.90 L815.27,545.90 L815.75,545.90 L816.24,545.90 L816.72,545.90 L817.20,545.90 L817.68,545.90 L818.17,545.90 L818.65,545.90 L819.13,545.90 L819.61,545.90 L820.10,545.90 L820.58,545.90 L821.06,545.90 L821.54,545.90 L822.03,545.90 L822.51,545.90 L822.99,545.90 L823.47,545.90 L823.96,545.90 L824.44,545.90 L824.92,545.90 L825.40,545.90 L825.89,545.90 L826.37,545.90 L826.85,545.90 L827.33,545.90 L827.82,545.90 L828.30,545.90 L828.78,545.90 L829.26,545.90 L829.75,545.90 L830.23,545.90 L830.71,545.90 L831.19,545.90 L831.68,545.90 L832.16,545.90 L832.64,545.90 L833.12,545.90 L833.61,545.90 L834.09,545.90 L834.57,545.90 L835.05,545.90 L835.54,545.90 L836.02,545.90 L836.50,545.90 L836.98,545.90 L837.47,545.90 L837.95,545.90 L838.43,545.90 L838.91,545.90 L839.40,545.90 L839.88,545.90 L840.36,545.90 L840.84,545.90 L841.33,545.90 L841.81,545.90 L842.29,545.90 L842.77,545.90 L843.26,545.90 L843.74,545.90 L844.22,545.90 L844.70,545.90 L845.19,545.90 L845.67,545.90 L846.15,545.90 L846.63,545.90 L847.12,545.90 L847.60,545.90" stroke="#00f" stroke-width="2.9" stroke-dasharray="6.8 5.2"/>
</g>
<g fill="none"><path d="M590.8,53.3H667.5" stroke="#000" stroke-width="2.5"/>
<path d="M590.8,94.4H667.5" stroke="#f00" stroke-width="2.8" stroke-dasharray="14 12.7"/>
<path d="M590.8,135.4H667.5" stroke="#0f0" stroke-width="2.8" stroke-dasharray="16.5 6.5 3.4 6.7"/>
<path d="M590.8,176.6H667.5" stroke="#00f" stroke-width="2.9" stroke-dasharray="7 5"/></g>
<g font-family="'Liberation Serif', 'Times New Roman', serif" fill="#000" stroke="#000" stroke-width="0.35" style="font-kerning:none">
<g font-size="33">
<text x="675.4" y="64.3">Lossless</text>
<text x="675.4" y="105.4">Lossy</text>
<text x="675.4" y="146.0">In air</text>
<text x="675.4" y="187.0">Two sources</text>
</g>
<g font-size="32.5" text-anchor="middle">
<text transform="translate(195.6,584) scale(1,1.066)">-0.4</text>
<text transform="translate(340.3,584) scale(1,1.066)">-0.2</text>
<text transform="translate(485.1,584) scale(1,1.066)">0.0</text>
<text transform="translate(629.9,584) scale(1,1.066)">0.2</text>
<text transform="translate(774.6,584) scale(1,1.066)">0.4</text>
</g><g font-size="32.5" text-anchor="end">
<text transform="translate(111.6,555.5) scale(1,1.066)">0.0</text>
<text transform="translate(111.6,289.6) scale(1,1.066)">0.5</text>
<text transform="translate(111.6,23.7) scale(1,1.066)">1.0</text>
</g>
<text font-size="45" transform="translate(32.2,477.6) rotate(-90) scale(0.969,1)" word-spacing="1.5">Normalized Intensity</text>
<text font-size="43.5" font-style="italic" x="452" y="638.6">x</text>
<text font-size="43.5" font-style="italic" transform="translate(471.5,638.6) skewX(-5)">/</text>
<text font-size="43.5" transform="translate(485.2,638.6) scale(1,0.875)">λ</text>
<text font-size="22.5" x="506.6" y="656">0</text>
</g>
</svg>
</body></html>
